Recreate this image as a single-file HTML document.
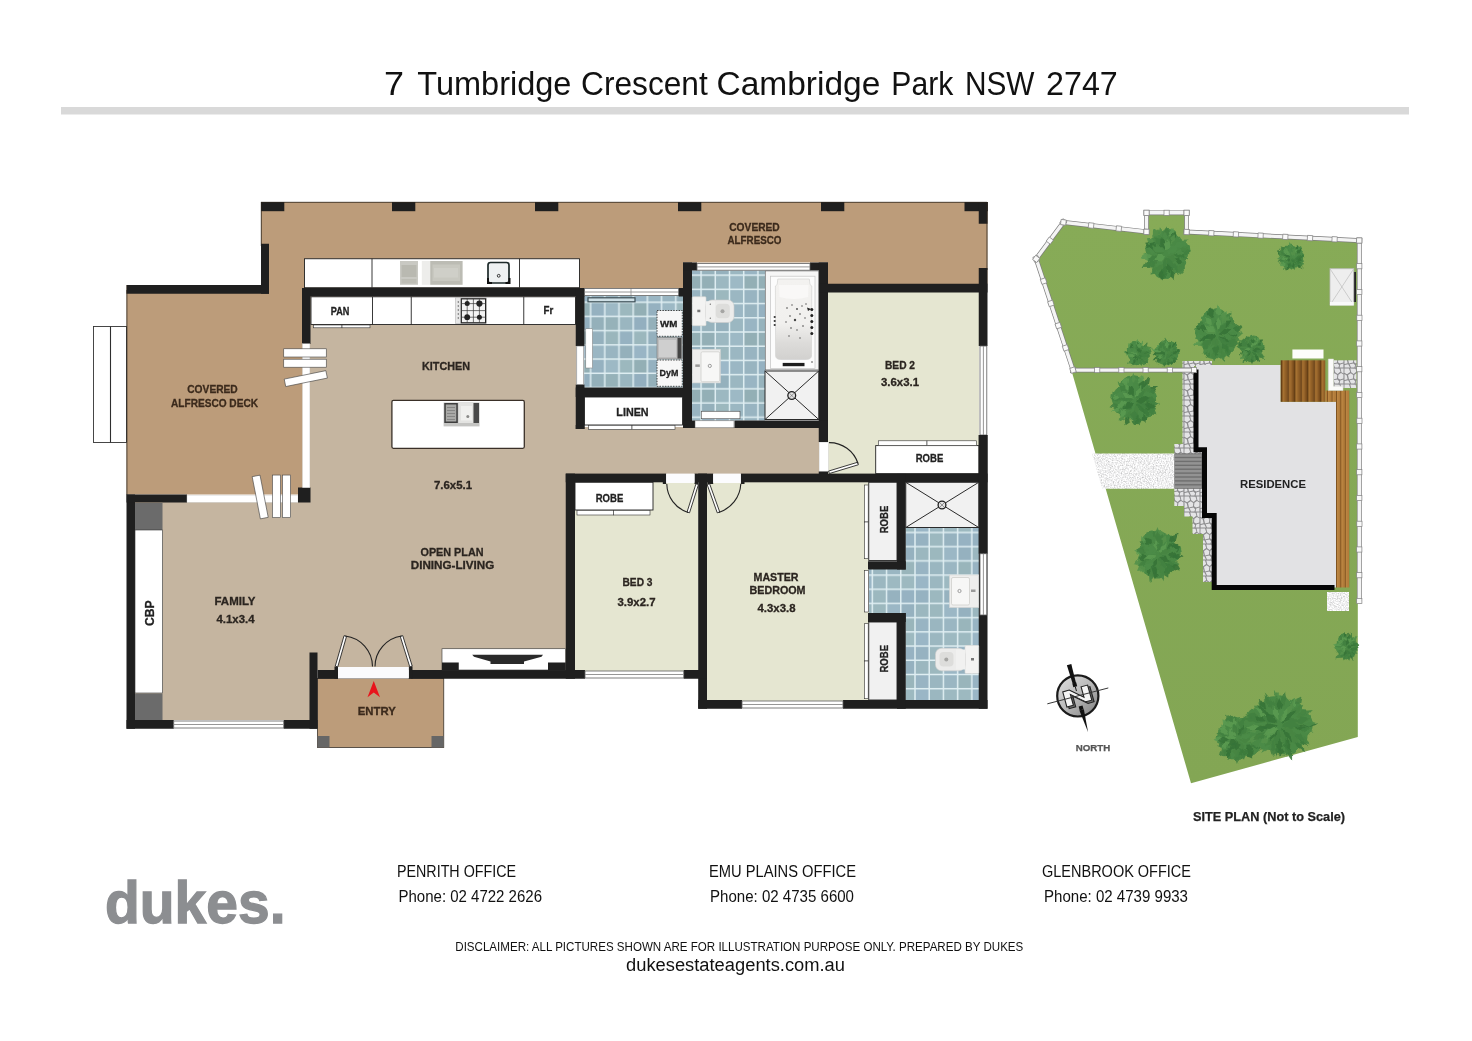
<!DOCTYPE html>
<html lang="en"><head><meta charset="utf-8"><title>7 Tumbridge Crescent Cambridge Park NSW 2747</title>
<style>html,body{margin:0;padding:0;background:#fff}svg{display:block;will-change:transform;opacity:0.999}</style></head><body>
<svg width="1472" height="1041" viewBox="0 0 1472 1041" font-family="'Liberation Sans', sans-serif">
<defs>
<pattern id="tileL" width="56.8" height="56.8" patternUnits="userSpaceOnUse" x="590.60" y="302.30">
<rect width="56.8" height="56.8" fill="#dfeef2"/>
<rect x="0.75" y="0.75" width="12.70" height="12.70" fill="#95b1c0"/>
<rect x="0.75" y="14.95" width="12.70" height="12.70" fill="#94b0ba"/>
<rect x="0.75" y="29.15" width="12.70" height="12.70" fill="#94b0bd"/>
<rect x="0.75" y="43.35" width="12.70" height="12.70" fill="#9ab6c3"/>
<rect x="14.95" y="0.75" width="12.70" height="12.70" fill="#9db9c5"/>
<rect x="14.95" y="14.95" width="12.70" height="12.70" fill="#96b2b9"/>
<rect x="14.95" y="29.15" width="12.70" height="12.70" fill="#9ab6bc"/>
<rect x="14.95" y="43.35" width="12.70" height="12.70" fill="#99b5c1"/>
<rect x="29.15" y="0.75" width="12.70" height="12.70" fill="#9cb8be"/>
<rect x="29.15" y="14.95" width="12.70" height="12.70" fill="#9ab6c0"/>
<rect x="29.15" y="29.15" width="12.70" height="12.70" fill="#96b2c1"/>
<rect x="29.15" y="43.35" width="12.70" height="12.70" fill="#94b0bb"/>
<rect x="43.35" y="0.75" width="12.70" height="12.70" fill="#93afb5"/>
<rect x="43.35" y="14.95" width="12.70" height="12.70" fill="#93afbf"/>
<rect x="43.35" y="29.15" width="12.70" height="12.70" fill="#9bb7bd"/>
<rect x="43.35" y="43.35" width="12.70" height="12.70" fill="#99b5c5"/>
</pattern>
<pattern id="tileB" width="56.8" height="56.8" patternUnits="userSpaceOnUse" x="701.10" y="275.20">
<rect width="56.8" height="56.8" fill="#dfeef2"/>
<rect x="0.75" y="0.75" width="12.70" height="12.70" fill="#93afb6"/>
<rect x="0.75" y="14.95" width="12.70" height="12.70" fill="#94b0bb"/>
<rect x="0.75" y="29.15" width="12.70" height="12.70" fill="#95b1c1"/>
<rect x="0.75" y="43.35" width="12.70" height="12.70" fill="#97b3bd"/>
<rect x="14.95" y="0.75" width="12.70" height="12.70" fill="#9cb8c1"/>
<rect x="14.95" y="14.95" width="12.70" height="12.70" fill="#9cb8be"/>
<rect x="14.95" y="29.15" width="12.70" height="12.70" fill="#9cb8c8"/>
<rect x="14.95" y="43.35" width="12.70" height="12.70" fill="#95b1bd"/>
<rect x="29.15" y="0.75" width="12.70" height="12.70" fill="#9db9c5"/>
<rect x="29.15" y="14.95" width="12.70" height="12.70" fill="#9bb7c2"/>
<rect x="29.15" y="29.15" width="12.70" height="12.70" fill="#9bb7c4"/>
<rect x="29.15" y="43.35" width="12.70" height="12.70" fill="#9bb7c1"/>
<rect x="43.35" y="0.75" width="12.70" height="12.70" fill="#93afb5"/>
<rect x="43.35" y="14.95" width="12.70" height="12.70" fill="#98b4c1"/>
<rect x="43.35" y="29.15" width="12.70" height="12.70" fill="#98b4c0"/>
<rect x="43.35" y="43.35" width="12.70" height="12.70" fill="#99b5c3"/>
</pattern>
<pattern id="tileE" width="56.8" height="56.8" patternUnits="userSpaceOnUse" x="915.00" y="532.50">
<rect width="56.8" height="56.8" fill="#dfeef2"/>
<rect x="0.75" y="0.75" width="12.70" height="12.70" fill="#96b2c1"/>
<rect x="0.75" y="14.95" width="12.70" height="12.70" fill="#9bb7bf"/>
<rect x="0.75" y="29.15" width="12.70" height="12.70" fill="#98b4c3"/>
<rect x="0.75" y="43.35" width="12.70" height="12.70" fill="#9ab6c6"/>
<rect x="14.95" y="0.75" width="12.70" height="12.70" fill="#9cb8bf"/>
<rect x="14.95" y="14.95" width="12.70" height="12.70" fill="#9cb8be"/>
<rect x="14.95" y="29.15" width="12.70" height="12.70" fill="#9ab6c0"/>
<rect x="14.95" y="43.35" width="12.70" height="12.70" fill="#9bb7c0"/>
<rect x="29.15" y="0.75" width="12.70" height="12.70" fill="#96b2bf"/>
<rect x="29.15" y="14.95" width="12.70" height="12.70" fill="#9bb7c5"/>
<rect x="29.15" y="29.15" width="12.70" height="12.70" fill="#9ab6c2"/>
<rect x="29.15" y="43.35" width="12.70" height="12.70" fill="#9db9c1"/>
<rect x="43.35" y="0.75" width="12.70" height="12.70" fill="#96b2c2"/>
<rect x="43.35" y="14.95" width="12.70" height="12.70" fill="#95b1bf"/>
<rect x="43.35" y="29.15" width="12.70" height="12.70" fill="#99b5bb"/>
<rect x="43.35" y="43.35" width="12.70" height="12.70" fill="#9db9c0"/>
</pattern>
<linearGradient id="livg" x1="0" y1="0" x2="1" y2="1"><stop offset="0" stop-color="#c9baa5"/><stop offset="1" stop-color="#c2b39e"/></linearGradient>
<radialGradient id="tree" cx="0.5" cy="0.5" r="0.5"><stop offset="0" stop-color="#4f8f45"/><stop offset="0.75" stop-color="#4a8a40"/><stop offset="1" stop-color="#5b9a48" stop-opacity="0.85"/></radialGradient>
<filter id="blur1"><feGaussianBlur stdDeviation="0.6"/></filter>
<filter id="blur2"><feGaussianBlur stdDeviation="1.2"/></filter>
</defs>
<rect x="0.00" y="0.00" width="1472.00" height="1041.00" fill="#fff" />
<text x="384.0" y="95" font-size="32.8" fill="#111" textLength="20.0" lengthAdjust="spacingAndGlyphs">7</text>
<text x="417.25" y="95" font-size="32.8" fill="#111" textLength="154.2" lengthAdjust="spacingAndGlyphs">Tumbridge</text>
<text x="581.0" y="95" font-size="32.8" fill="#111" textLength="126.8" lengthAdjust="spacingAndGlyphs">Crescent</text>
<text x="716.5" y="95" font-size="32.8" fill="#111" textLength="163.8" lengthAdjust="spacingAndGlyphs">Cambridge</text>
<text x="891.3" y="95" font-size="32.8" fill="#111" textLength="62.0" lengthAdjust="spacingAndGlyphs">Park</text>
<text x="964.9" y="95" font-size="32.8" fill="#111" textLength="69.6" lengthAdjust="spacingAndGlyphs">NSW</text>
<text x="1046.1" y="95" font-size="32.8" fill="#111" textLength="71.7" lengthAdjust="spacingAndGlyphs">2747</text>
<rect x="61.00" y="107.00" width="1348.00" height="7.50" fill="#d9d9d9" />
<path d="M261,202 H987.5 V284 H828 V262.5 H683 V288 H302.5 V494.5 H126.5 V285 H261 Z" fill="#bc9c7a"/>
<path d="M310,296 H576 V427 H819 V474 H566 V670 H317 V720 H135 V502 H310 Z" fill="#c5b5a0"/>
<rect x="317.50" y="678.50" width="126.25" height="69.00" fill="#bc9c7a" stroke="#3a332c" stroke-width="0.8"/>
<rect x="828.00" y="292.00" width="151.00" height="182.00" fill="#e5e6d1" />
<rect x="575.00" y="482.00" width="123.00" height="189.00" fill="#e5e6d1" />
<rect x="707.00" y="482.00" width="162.00" height="219.00" fill="#e5e6d1" />
<rect x="584.20" y="296.00" width="99.00" height="92.00" fill="url(#tileL)" />
<rect x="692.00" y="270.50" width="73.00" height="150.00" fill="url(#tileB)" />
<rect x="905.50" y="528.00" width="73.50" height="172.50" fill="url(#tileE)" />
<rect x="869.00" y="569.00" width="37.00" height="44.50" fill="url(#tileE)" />
<rect x="93.50" y="326.50" width="33.00" height="116.00" fill="#fff" stroke="#333" stroke-width="0.9"/>
<line x1="110.5" y1="326.5" x2="110.5" y2="442.5" stroke="#2e2e2e" stroke-width="1.1"/>
<rect x="261.00" y="202.00" width="23.30" height="9.20" fill="#1f1f1f" />
<rect x="392.00" y="202.00" width="23.30" height="9.20" fill="#1f1f1f" />
<rect x="535.00" y="202.00" width="23.30" height="9.20" fill="#1f1f1f" />
<rect x="678.00" y="202.00" width="23.30" height="9.20" fill="#1f1f1f" />
<rect x="821.00" y="202.00" width="23.30" height="9.20" fill="#1f1f1f" />
<rect x="964.50" y="202.00" width="23.30" height="9.20" fill="#1f1f1f" />
<rect x="978.75" y="202.00" width="8.75" height="21.75" fill="#1f1f1f" />
<line x1="261" y1="202.3" x2="987" y2="202.3" stroke="#2b241d" stroke-width="0.8"/>
<line x1="987" y1="202" x2="987" y2="270" stroke="#2b241d" stroke-width="0.8"/>
<line x1="261.3" y1="202" x2="261.3" y2="246" stroke="#2b241d" stroke-width="0.8"/>
<rect x="261.00" y="243.75" width="8.00" height="50.00" fill="#1f1f1f" />
<rect x="126.50" y="285.00" width="142.50" height="8.75" fill="#1f1f1f" />
<line x1="126.9" y1="290" x2="126.9" y2="495" stroke="#2b241d" stroke-width="0.8"/>
<rect x="304.50" y="258.75" width="275.00" height="28.95" fill="#fff" stroke="#222" stroke-width="0.9"/>
<line x1="372" y1="258.75" x2="372" y2="287.7" stroke="#222" stroke-width="0.9"/>
<line x1="519.5" y1="258.75" x2="519.5" y2="287.7" stroke="#222" stroke-width="0.9"/>
<rect x="302.00" y="288.00" width="282.50" height="8.50" fill="#1f1f1f" />
<rect x="302.00" y="288.00" width="8.50" height="56.00" fill="#1f1f1f" />
<rect x="311.00" y="296.80" width="264.50" height="27.70" fill="#fff" stroke="#222" stroke-width="0.9"/>
<line x1="372.5" y1="296.8" x2="372.5" y2="324.5" stroke="#222" stroke-width="0.9"/>
<line x1="411.25" y1="296.8" x2="411.25" y2="324.5" stroke="#222" stroke-width="0.9"/>
<line x1="523.75" y1="296.8" x2="523.75" y2="324.5" stroke="#222" stroke-width="0.9"/>
<rect x="313.50" y="325.00" width="28.50" height="2.80" fill="#fff" stroke="#333" stroke-width="0.6"/>
<rect x="342.00" y="325.00" width="28.00" height="2.80" fill="#fff" stroke="#333" stroke-width="0.6"/>
<rect x="575.75" y="288.00" width="8.75" height="58.00" fill="#1f1f1f" />
<rect x="575.75" y="384.50" width="8.75" height="44.50" fill="#1f1f1f" />
<rect x="576.80" y="346.00" width="7.00" height="38.50" fill="#fff" stroke="#555" stroke-width="0.5"/>
<rect x="584.50" y="288.60" width="94.30" height="7.00" fill="#fff" stroke="#5e5e5e" stroke-width="0.8"/>
<line x1="631" y1="288.6" x2="631" y2="295.6" stroke="#666" stroke-width="0.6"/>
<line x1="584.5" y1="292" x2="678.8" y2="292" stroke="#8a8a8a" stroke-width="0.9"/>
<rect x="678.75" y="288.00" width="4.75" height="8.50" fill="#1f1f1f" />
<rect x="575.75" y="387.50" width="116.25" height="9.50" fill="#1f1f1f" />
<rect x="584.50" y="397.00" width="98.00" height="28.00" fill="#fff" stroke="#222" stroke-width="0.9"/>
<rect x="575.75" y="425.00" width="8.75" height="4.00" fill="#1f1f1f" />
<rect x="588.50" y="425.30" width="43.50" height="4.20" fill="#fff" stroke="#333" stroke-width="0.6"/>
<rect x="632.00" y="425.30" width="43.00" height="4.20" fill="#fff" stroke="#333" stroke-width="0.6"/>
<rect x="683.00" y="262.50" width="9.00" height="165.30" fill="#1f1f1f" />
<rect x="683.00" y="262.50" width="14.00" height="8.00" fill="#1f1f1f" />
<rect x="810.00" y="262.50" width="18.00" height="8.00" fill="#1f1f1f" />
<rect x="697.00" y="263.60" width="113.00" height="6.60" fill="#fff" stroke="#5e5e5e" stroke-width="0.8"/>
<line x1="697" y1="266.9" x2="810" y2="266.9" stroke="#8a8a8a" stroke-width="0.9"/>
<rect x="818.75" y="262.50" width="9.25" height="179.50" fill="#1f1f1f" />
<rect x="734.50" y="420.50" width="93.50" height="7.50" fill="#1f1f1f" />
<rect x="683.00" y="420.50" width="12.00" height="7.50" fill="#1f1f1f" />
<rect x="695.00" y="420.80" width="39.00" height="7.00" fill="#fff" stroke="#555" stroke-width="0.5"/>
<rect x="701.25" y="411.25" width="38.75" height="7.50" fill="#fff" stroke="#444" stroke-width="0.6"/>
<rect x="818.75" y="283.75" width="168.75" height="8.75" fill="#1f1f1f" />
<rect x="978.75" y="268.00" width="8.75" height="78.00" fill="#1f1f1f" />
<rect x="978.75" y="435.00" width="8.75" height="273.75" fill="#1f1f1f" />
<rect x="980.00" y="346.00" width="6.80" height="89.00" fill="#fff" stroke="#5e5e5e" stroke-width="0.8"/>
<line x1="983.4" y1="346" x2="983.4" y2="435" stroke="#8a8a8a" stroke-width="0.9"/>
<rect x="819.30" y="442.50" width="9.00" height="29.30" fill="#fff" stroke="#ccc" stroke-width="0.4"/>
<rect x="818.75" y="471.50" width="9.25" height="2.50" fill="#1f1f1f" />
<rect x="740.80" y="473.60" width="246.70" height="8.70" fill="#1f1f1f" />
<rect x="565.75" y="473.60" width="100.45" height="8.70" fill="#1f1f1f" />
<rect x="662.80" y="482.00" width="3.40" height="2.00" fill="#1f1f1f" />
<rect x="694.50" y="482.00" width="3.50" height="2.00" fill="#1f1f1f" />
<rect x="707.30" y="482.00" width="5.90" height="2.00" fill="#1f1f1f" />
<rect x="740.80" y="482.00" width="3.70" height="2.00" fill="#1f1f1f" />
<rect x="565.75" y="473.60" width="9.25" height="205.15" fill="#1f1f1f" />
<rect x="694.50" y="473.60" width="18.70" height="8.70" fill="#1f1f1f" />
<rect x="698.20" y="473.60" width="8.80" height="235.15" fill="#1f1f1f" />
<rect x="666.20" y="473.60" width="28.30" height="9.40" fill="#fcfcfe" />
<rect x="713.20" y="473.60" width="27.60" height="9.40" fill="#fcfcfe" />
<rect x="411.25" y="670.00" width="173.75" height="8.75" fill="#1f1f1f" />
<rect x="683.75" y="670.00" width="23.25" height="8.75" fill="#1f1f1f" />
<rect x="585.00" y="671.00" width="98.75" height="7.00" fill="#fff" stroke="#5e5e5e" stroke-width="0.8"/>
<line x1="585" y1="674.5" x2="683.75" y2="674.5" stroke="#8a8a8a" stroke-width="0.9"/>
<rect x="698.20" y="700.00" width="43.80" height="8.75" fill="#1f1f1f" />
<rect x="843.00" y="700.00" width="144.50" height="8.75" fill="#1f1f1f" />
<rect x="742.00" y="701.00" width="101.00" height="7.00" fill="#fff" stroke="#5e5e5e" stroke-width="0.8"/>
<line x1="742" y1="704.5" x2="843" y2="704.5" stroke="#8a8a8a" stroke-width="0.9"/>
<rect x="897.00" y="473.60" width="8.75" height="95.90" fill="#1f1f1f" />
<rect x="868.00" y="561.25" width="37.75" height="8.25" fill="#1f1f1f" />
<rect x="868.00" y="613.00" width="37.75" height="9.00" fill="#1f1f1f" />
<rect x="897.00" y="613.00" width="8.75" height="95.75" fill="#1f1f1f" />
<rect x="978.75" y="435.00" width="8.75" height="118.75" fill="#1f1f1f" />
<rect x="980.00" y="553.75" width="6.80" height="61.25" fill="#fff" stroke="#5e5e5e" stroke-width="0.8"/>
<line x1="983.4" y1="553.75" x2="983.4" y2="615" stroke="#8a8a8a" stroke-width="0.9"/>
<rect x="864.60" y="570.50" width="4.00" height="41.50" fill="#fff" stroke="#333" stroke-width="0.6"/>
<rect x="126.50" y="494.50" width="8.50" height="234.25" fill="#1f1f1f" />
<rect x="126.50" y="494.50" width="60.50" height="8.00" fill="#1f1f1f" />
<rect x="187.00" y="495.30" width="111.00" height="7.00" fill="#fff" stroke="#ccc" stroke-width="0.4"/>
<rect x="298.00" y="487.50" width="12.50" height="15.00" fill="#1f1f1f" />
<rect x="302.80" y="343.75" width="7.00" height="143.75" fill="#fff" stroke="#ccc" stroke-width="0.4"/>
<rect x="126.50" y="720.00" width="47.25" height="8.75" fill="#1f1f1f" />
<rect x="283.75" y="720.00" width="33.75" height="8.75" fill="#1f1f1f" />
<rect x="173.75" y="721.00" width="110.00" height="7.00" fill="#fff" stroke="#5e5e5e" stroke-width="0.8"/>
<line x1="173.75" y1="724.5" x2="283.75" y2="724.5" stroke="#8a8a8a" stroke-width="0.9"/>
<rect x="135.00" y="503.00" width="27.50" height="27.00" fill="#6b6b6b" />
<rect x="135.00" y="530.00" width="27.50" height="163.00" fill="#fff" stroke="#333" stroke-width="0.6"/>
<rect x="135.00" y="693.50" width="27.50" height="26.50" fill="#6b6b6b" />
<rect x="309.50" y="652.50" width="8.00" height="76.25" fill="#1f1f1f" />
<rect x="317.50" y="670.00" width="20.50" height="8.75" fill="#1f1f1f" />
<rect x="334.50" y="666.50" width="3.50" height="12.25" fill="#1f1f1f" />
<rect x="408.75" y="666.50" width="3.75" height="12.25" fill="#1f1f1f" />
<rect x="338.00" y="667.00" width="70.75" height="11.50" fill="#fbfbfd" />
<rect x="317.50" y="736.00" width="12.00" height="11.50" fill="#666" />
<rect x="431.50" y="736.00" width="12.25" height="11.50" fill="#666" />
<rect x="442.00" y="648.75" width="123.50" height="21.25" fill="#fff" stroke="#333" stroke-width="0.6"/>
<rect x="442.00" y="662.50" width="16.75" height="7.50" fill="#1f1f1f" />
<rect x="548.00" y="662.50" width="17.75" height="7.50" fill="#1f1f1f" />
<path d="M472.2,654.8 H543 L541.5,656.8 L524,661.6 V664 H490.5 V661.6 L474,656.8 Z" fill="#2a2a2a"/>
<rect x="391.9" y="400.4" width="132.4" height="47.9" rx="1.5" fill="#fff" stroke="#3a3028" stroke-width="1.3"/>
<rect x="283.75" y="348.80" width="42.5" height="8.2" fill="#fff" stroke="#444" stroke-width="0.6" transform="rotate(0 305 352.9)"/>
<rect x="283.75" y="359.20" width="42.5" height="8" fill="#fff" stroke="#444" stroke-width="0.6" transform="rotate(0 305 363.2)"/>
<rect x="284.55" y="374.80" width="42.5" height="7.6" fill="#fff" stroke="#444" stroke-width="0.6" transform="rotate(-11.5 305.8 378.6)"/>
<rect x="256.20" y="475.50" width="8" height="43" fill="#fff" stroke="#444" stroke-width="0.6" transform="rotate(-11 260.2 497)"/>
<rect x="272.50" y="475.05" width="8" height="42.5" fill="#fff" stroke="#444" stroke-width="0.6" transform="rotate(0 276.5 496.3)"/>
<rect x="282.50" y="475.05" width="8" height="42.5" fill="#fff" stroke="#444" stroke-width="0.6" transform="rotate(0 286.5 496.3)"/>
<rect x="336.50" y="665.20" width="31.74" height="2.6" fill="#fff" stroke="#222" stroke-width="0.8" transform="rotate(-73.91 336.50 666.50)"/>
<path d="M345.3,636 A31,31 0 0 1 372.5,666.5" fill="none" stroke="#222" stroke-width="1.1"/>
<rect x="411.00" y="665.20" width="31.95" height="2.6" fill="#fff" stroke="#222" stroke-width="0.8" transform="rotate(-107.30 411.00 666.50)"/>
<path d="M401.5,636 A31,31 0 0 0 375,666.5" fill="none" stroke="#222" stroke-width="1.1"/>
<rect x="697.20" y="482.90" width="29.57" height="2.6" fill="#fff" stroke="#222" stroke-width="0.8" transform="rotate(107.52 697.20 484.20)"/>
<path d="M666.8,484 A30.4,30.4 0 0 0 688,512.4" fill="none" stroke="#222" stroke-width="1.1"/>
<rect x="708.40" y="482.90" width="29.95" height="2.6" fill="#fff" stroke="#222" stroke-width="0.8" transform="rotate(70.29 708.40 484.20)"/>
<path d="M740.8,484 A31.5,31.5 0 0 1 718.8,512.4" fill="none" stroke="#222" stroke-width="1.1"/>
<rect x="829.00" y="471.00" width="30.31" height="2.6" fill="#fff" stroke="#222" stroke-width="0.8" transform="rotate(-16.88 829.00 472.30)"/>
<path d="M829,442.6 A30,30 0 0 1 858,463.5" fill="none" stroke="#222" stroke-width="1.1"/>
<rect x="875.70" y="445.60" width="103.10" height="28.00" fill="#fff" stroke="#222" stroke-width="0.9"/>
<rect x="878.40" y="440.80" width="48.60" height="4.80" fill="#fff" stroke="#333" stroke-width="0.6"/>
<rect x="927.00" y="440.80" width="49.50" height="4.80" fill="#fff" stroke="#333" stroke-width="0.6"/>
<rect x="575.00" y="482.30" width="78.00" height="27.70" fill="#fff" stroke="#222" stroke-width="0.9"/>
<rect x="577.00" y="510.50" width="36.50" height="4.50" fill="#fff" stroke="#333" stroke-width="0.6"/>
<rect x="613.50" y="510.50" width="36.50" height="4.50" fill="#fff" stroke="#333" stroke-width="0.6"/>
<rect x="868.75" y="482.30" width="28.25" height="78.20" fill="#f1f1f1" stroke="#222" stroke-width="0.9"/>
<rect x="868.75" y="622.00" width="28.25" height="78.00" fill="#f1f1f1" stroke="#222" stroke-width="0.9"/>
<rect x="864.60" y="485.00" width="3.60" height="37.00" fill="#fff" stroke="#333" stroke-width="0.6"/>
<rect x="864.60" y="522.00" width="3.60" height="36.70" fill="#fff" stroke="#333" stroke-width="0.6"/>
<rect x="864.60" y="623.70" width="3.60" height="37.30" fill="#fff" stroke="#333" stroke-width="0.6"/>
<rect x="864.60" y="661.00" width="3.60" height="37.70" fill="#fff" stroke="#333" stroke-width="0.6"/>
<rect x="765.00" y="371.00" width="53.75" height="48.50" fill="#f1f1f1" stroke="#2a2a2a" stroke-width="1"/>
<path d="M765,371 L818.75,419.5 M818.75,371 L765,419.5" stroke="#2a2a2a" stroke-width="1"/>
<circle cx="791.75" cy="395.5" r="3.9" fill="#e2e2e2" stroke="#1e1e1e" stroke-width="1.3"/>
<path d="M789.25,393.0 L794.25,398.0 M794.25,393.0 L789.25,398.0" stroke="#444" stroke-width="0.5"/>
<rect x="905.75" y="482.30" width="73.00" height="45.20" fill="#f1f1f1" stroke="#2a2a2a" stroke-width="1"/>
<path d="M905.75,482.3 L978.75,527.5 M978.75,482.3 L905.75,527.5" stroke="#2a2a2a" stroke-width="1"/>
<circle cx="942" cy="505" r="3.9" fill="#e2e2e2" stroke="#1e1e1e" stroke-width="1.3"/>
<path d="M939.5,502.5 L944.5,507.5 M944.5,502.5 L939.5,507.5" stroke="#444" stroke-width="0.5"/>
<linearGradient id="tubg" x1="0" y1="0" x2="0" y2="1"><stop offset="0" stop-color="#f3f2f0"/><stop offset="0.55" stop-color="#f1f0ee"/><stop offset="0.8" stop-color="#dcdbd9"/><stop offset="1" stop-color="#d2d1cf"/></linearGradient>
<rect x="765.30" y="270.90" width="53.40" height="99.00" fill="#f6f6f6" stroke="#666" stroke-width="0.7"/>
<rect x="770.60" y="276.20" width="44.40" height="92.40" fill="#fcfcfc" stroke="#c4c4c4" stroke-width="0.7"/>
<g filter="url(#blur1)">
<path d="M777.8,279 H809.3 L810,284.5 L811.8,286 L811.5,356 Q811,359.5 806,359.5 H781 Q776,359.5 775.6,356 L775.4,286 L777.2,284.5 Z" fill="url(#tubg)" stroke="#d4d4d2" stroke-width="0.7"/>
<path d="M779,285 H808.5 L808,297 Q793.5,301 779.5,297 Z" fill="#f9f8f7"/>
</g>
<rect x="782.70" y="362.90" width="21.80" height="3.30" fill="#1c1c1c" />
<circle cx="787" cy="308" r="0.8" fill="#444"/>
<circle cx="792" cy="305" r="0.7" fill="#444"/>
<circle cx="797" cy="309" r="0.9" fill="#444"/>
<circle cx="802" cy="306" r="0.7" fill="#444"/>
<circle cx="806" cy="304" r="0.7" fill="#444"/>
<circle cx="790" cy="316" r="0.8" fill="#444"/>
<circle cx="795" cy="320" r="1.2" fill="#444"/>
<circle cx="800" cy="314" r="0.8" fill="#444"/>
<circle cx="786" cy="322" r="0.7" fill="#444"/>
<circle cx="791" cy="328" r="0.8" fill="#444"/>
<circle cx="797" cy="330" r="0.7" fill="#444"/>
<circle cx="803" cy="326" r="0.8" fill="#444"/>
<circle cx="789" cy="336" r="0.7" fill="#444"/>
<circle cx="800" cy="338" r="0.7" fill="#444"/>
<circle cx="805" cy="318" r="0.7" fill="#444"/>
<circle cx="811.8" cy="309.5" r="1.5" fill="#222"/>
<circle cx="811.8" cy="315.5" r="1.5" fill="#222"/>
<circle cx="811.8" cy="321.5" r="1.5" fill="#222"/>
<circle cx="811.8" cy="327.5" r="1.5" fill="#222"/>
<circle cx="811.8" cy="333.5" r="1.5" fill="#222"/>
<path d="M807,307.5 l4,1.5 l-3,2 z" fill="#222"/>
<circle cx="774.7" cy="317" r="1.1" fill="#333"/>
<circle cx="774.7" cy="321" r="1.1" fill="#333"/>
<circle cx="774.7" cy="325" r="1.1" fill="#333"/>
<circle cx="812" cy="362" r="0.8" fill="#444"/>
<g filter="url(#blur1)">
<rect x="692.3" y="296.7" width="13.7" height="29" rx="1" fill="#f3f3f2" stroke="#d6d6d4" stroke-width="0.6"/>
<rect x="706.0" y="300.0" width="28" height="22.5" rx="6" fill="#ececeb" stroke="#cfcfcd" stroke-width="0.6"/>
<rect x="706.0" y="301.2" width="9" height="20" fill="#f1f1f0"/>
<rect x="715.8" y="303.7" width="14" height="14.5" rx="4" fill="#dddddb"/>
<circle cx="722.5" cy="311.2" r="2" fill="#a5a5a3"/>
<rect x="697.3" y="309.7" width="3" height="2.5" fill="#777"/>
<circle cx="710.3" cy="304.2" r="0.6" fill="#555"/><circle cx="710.3" cy="318.2" r="0.6" fill="#555"/>
</g>
<g filter="url(#blur1)">
<rect x="692.30" y="349.40" width="28.00" height="33.50" fill="#eeeeed" stroke="#d6d6d4" stroke-width="0.6"/>
<rect x="701.0" y="351.79999999999995" width="18.7" height="29.9" rx="1.5" fill="#f7f7f6" stroke="#cfcfcd" stroke-width="0.8"/>
<circle cx="709.8" cy="365.9" r="1.6" fill="none" stroke="#888" stroke-width="0.8"/>
<rect x="695.3" y="364.4" width="4.5" height="2.5" fill="#999"/>
</g>
<g filter="url(#blur1)">
<rect x="949.50" y="575.00" width="29.20" height="32.50" fill="#eeeeed" stroke="#d6d6d4" stroke-width="0.6"/>
<rect x="951.5" y="577.5" width="18" height="27.5" rx="1.5" fill="#f7f7f6" stroke="#cfcfcd" stroke-width="0.8"/>
<circle cx="959.5" cy="591" r="1.6" fill="none" stroke="#888" stroke-width="0.8"/><rect x="971" y="589.5" width="4.5" height="2.5" fill="#999"/>
</g>
<g filter="url(#blur1)">
<rect x="965" y="645.5" width="13.7" height="28" rx="1" fill="#f3f3f2" stroke="#d6d6d4" stroke-width="0.6"/>
<rect x="935.5" y="648.3" width="29.5" height="22.5" rx="6" fill="#ececeb" stroke="#cfcfcd" stroke-width="0.6"/>
<rect x="956" y="649.5" width="9" height="20" fill="#f1f1f0"/>
<rect x="939.5" y="652" width="14" height="14.5" rx="4" fill="#dddddb"/><circle cx="946.3" cy="659.5" r="2" fill="#a5a5a3"/><rect x="971" y="658" width="3" height="2.5" fill="#777"/>
</g>
<rect x="657.00" y="310.50" width="25.30" height="25.80" fill="#f7f7f7" stroke="#444" stroke-width="1" stroke-dasharray="1.5 1.2"/>
<rect x="657.00" y="360.00" width="25.30" height="26.30" fill="#f7f7f7" stroke="#444" stroke-width="1" stroke-dasharray="1.5 1.2"/>
<rect x="657.00" y="337.50" width="25.30" height="21.50" fill="#bdbdbd" stroke="#777" stroke-width="0.6"/>
<rect x="659.00" y="340.00" width="17.00" height="17.00" fill="#cfcfcf" />
<rect x="677.50" y="338.00" width="4.00" height="20.50" fill="#444" />
<rect x="585.80" y="328.75" width="6.70" height="39.25" fill="#fff" stroke="#777" stroke-width="0.5"/>
<rect x="588.00" y="297.80" width="47.00" height="4.00" fill="#cfe0e6" stroke="#3d4f56" stroke-width="1.2"/>
<g filter="url(#blur1)">
<rect x="400.00" y="261.00" width="18.00" height="23.80" fill="#c9c9c3" />
<rect x="401.50" y="265.00" width="15.00" height="12.00" fill="#b9b9b1" />
<rect x="401.50" y="279.00" width="15.00" height="4.50" fill="#bdbdb5" />
<rect x="421.80" y="261.00" width="8.20" height="23.80" fill="#ededeb" />
<rect x="430.20" y="261.00" width="32.40" height="23.80" fill="#bcbcb4" />
<rect x="432.50" y="264.50" width="27.50" height="16.50" fill="#c8c8c0" />
<rect x="434.00" y="268.00" width="24.00" height="9.50" fill="#cfcfc8" />
</g>
<rect x="488" y="262.5" width="21" height="20.5" rx="2.5" fill="#eef1f2" stroke="#1d2a2a" stroke-width="1.7"/>
<circle cx="498.7" cy="275.8" r="1.4" fill="none" stroke="#222" stroke-width="0.9"/>
<path d="M488,278 v5 h4 M509.5,278 v5 h-4" stroke="#111" stroke-width="2" fill="none"/>
<rect x="455.50" y="297.80" width="30.70" height="25.80" fill="#e6e6e6" stroke="#aaa" stroke-width="0.5"/>
<rect x="461.30" y="298.80" width="24.30" height="24.00" fill="#f3f3f3" stroke="#222" stroke-width="1.2"/>
<path d="M467.2,298.8 V322.8 M473.4,298.8 V322.8 M479.4,298.8 V322.8 M461.3,303.6 H485.6 M461.3,310.6 H485.6 M461.3,317.2 H485.6" stroke="#3a3a3a" stroke-width="0.7" fill="none"/>
<circle cx="467.2" cy="303.6" r="2.5" fill="#222"/>
<circle cx="479.4" cy="303.6" r="3.1" fill="#222"/>
<circle cx="467.2" cy="317.2" r="2.9" fill="#222"/>
<circle cx="479.4" cy="317.2" r="2.5" fill="#222"/>
<circle cx="458.3" cy="302" r="0.7" fill="#555"/>
<circle cx="458.3" cy="306" r="0.7" fill="#555"/>
<circle cx="458.3" cy="310" r="0.7" fill="#555"/>
<circle cx="458.3" cy="314" r="0.7" fill="#555"/>
<circle cx="458.3" cy="318" r="0.7" fill="#555"/>
<g filter="url(#blur1)">
<rect x="443.60" y="402.50" width="35.90" height="23.90" fill="#c4c4c2" />
<rect x="444.30" y="403.00" width="13.50" height="20.00" fill="#3c3c3c" />
<rect x="445.80" y="404.50" width="10.50" height="17.00" fill="#a9a9a7" />
<rect x="458.50" y="403.00" width="15.00" height="20.00" fill="#e3e3e1" />
<rect x="461.00" y="406.00" width="11.00" height="14.50" fill="#f0f0ee" />
<rect x="473.50" y="403.00" width="5.50" height="20.00" fill="#4a4a48" />
<circle cx="467.8" cy="416.5" r="1.5" fill="#8a8a88"/>
<path d="M447,407.5 h8 M447,410.5 h8 M447,413.5 h8 M447,416.5 h8 M447,419.5 h8" stroke="#777" stroke-width="0.7"/>
</g>
<path d="M373.75,681 L380,697.2 L373.75,692.6 L367.5,697.2 Z" fill="#e8141c"/>
<text x="754.5" y="230.7" font-size="11.5" font-weight="bold" fill="#3b2a1c" stroke="#3b2a1c" stroke-width="0.3" text-anchor="middle" textLength="50.5" lengthAdjust="spacingAndGlyphs" >COVERED</text>
<text x="754.5" y="243.7" font-size="11.5" font-weight="bold" fill="#3b2a1c" stroke="#3b2a1c" stroke-width="0.3" text-anchor="middle" textLength="54" lengthAdjust="spacingAndGlyphs" >ALFRESCO</text>
<text x="212.5" y="393.2" font-size="11.5" font-weight="bold" fill="#3b2a1c" stroke="#3b2a1c" stroke-width="0.3" text-anchor="middle" textLength="50.5" lengthAdjust="spacingAndGlyphs" >COVERED</text>
<text x="214.5" y="406.7" font-size="11.5" font-weight="bold" fill="#3b2a1c" stroke="#3b2a1c" stroke-width="0.3" text-anchor="middle" textLength="87" lengthAdjust="spacingAndGlyphs" >ALFRESCO DECK</text>
<text x="340" y="314.7" font-size="10" font-weight="bold" fill="#222" stroke="#222" stroke-width="0.3" text-anchor="middle" textLength="18.5" lengthAdjust="spacingAndGlyphs" >PAN</text>
<text x="548.4" y="313.9" font-size="10" font-weight="bold" fill="#222" stroke="#222" stroke-width="0.3" text-anchor="middle" textLength="9.7" lengthAdjust="spacingAndGlyphs" >Fr</text>
<text x="446" y="369.7" font-size="11.5" font-weight="bold" fill="#2b2520" stroke="#2b2520" stroke-width="0.3" text-anchor="middle" textLength="48" lengthAdjust="spacingAndGlyphs" >KITCHEN</text>
<text x="453" y="488.7" font-size="11.5" font-weight="bold" fill="#2b2520" stroke="#2b2520" stroke-width="0.3" text-anchor="middle" textLength="38" lengthAdjust="spacingAndGlyphs" >7.6x5.1</text>
<text x="452" y="555.7" font-size="11.5" font-weight="bold" fill="#2b2520" stroke="#2b2520" stroke-width="0.3" text-anchor="middle" textLength="63" lengthAdjust="spacingAndGlyphs" >OPEN PLAN</text>
<text x="452.5" y="569.2" font-size="11.5" font-weight="bold" fill="#2b2520" stroke="#2b2520" stroke-width="0.3" text-anchor="middle" textLength="83.5" lengthAdjust="spacingAndGlyphs" >DINING-LIVING</text>
<text x="235" y="604.7" font-size="11.5" font-weight="bold" fill="#2b2520" stroke="#2b2520" stroke-width="0.3" text-anchor="middle" textLength="41" lengthAdjust="spacingAndGlyphs" >FAMILY</text>
<text x="235.5" y="622.7" font-size="11.5" font-weight="bold" fill="#2b2520" stroke="#2b2520" stroke-width="0.3" text-anchor="middle" textLength="38" lengthAdjust="spacingAndGlyphs" >4.1x3.4</text>
<text x="376.75" y="714.7" font-size="11.5" font-weight="bold" fill="#3b2a1c" stroke="#3b2a1c" stroke-width="0.3" text-anchor="middle" textLength="38" lengthAdjust="spacingAndGlyphs" >ENTRY</text>
<text x="149.5" y="613.2" font-size="13.5" font-weight="bold" fill="#222" stroke="#222" stroke-width="0.3" text-anchor="middle" textLength="25.5" lengthAdjust="spacingAndGlyphs" transform="rotate(-90 149.5 613.2)" dominant-baseline="central">CBP</text>
<text x="632.5" y="416.4" font-size="11.1" font-weight="bold" fill="#222" stroke="#222" stroke-width="0.3" text-anchor="middle" textLength="32.3" lengthAdjust="spacingAndGlyphs" >LINEN</text>
<text x="668.6" y="327.2" font-size="9.6" font-weight="bold" fill="#222" stroke="#222" stroke-width="0.3" text-anchor="middle" textLength="17.3" lengthAdjust="spacingAndGlyphs" >WM</text>
<text x="669" y="376.09999999999997" font-size="9.6" font-weight="bold" fill="#222" stroke="#222" stroke-width="0.3" text-anchor="middle" textLength="18.8" lengthAdjust="spacingAndGlyphs" >DyM</text>
<text x="900" y="369.2" font-size="11.5" font-weight="bold" fill="#2b2520" stroke="#2b2520" stroke-width="0.3" text-anchor="middle" textLength="30" lengthAdjust="spacingAndGlyphs" >BED 2</text>
<text x="900" y="385.7" font-size="11.5" font-weight="bold" fill="#2b2520" stroke="#2b2520" stroke-width="0.3" text-anchor="middle" textLength="38" lengthAdjust="spacingAndGlyphs" >3.6x3.1</text>
<text x="929.5" y="462.2" font-size="11" font-weight="bold" fill="#222" stroke="#222" stroke-width="0.3" text-anchor="middle" textLength="27.5" lengthAdjust="spacingAndGlyphs" >ROBE</text>
<text x="609.5" y="502.2" font-size="11" font-weight="bold" fill="#222" stroke="#222" stroke-width="0.3" text-anchor="middle" textLength="27.5" lengthAdjust="spacingAndGlyphs" >ROBE</text>
<text x="637.5" y="586.2" font-size="11.5" font-weight="bold" fill="#2b2520" stroke="#2b2520" stroke-width="0.3" text-anchor="middle" textLength="30" lengthAdjust="spacingAndGlyphs" >BED 3</text>
<text x="636.5" y="605.7" font-size="11.5" font-weight="bold" fill="#2b2520" stroke="#2b2520" stroke-width="0.3" text-anchor="middle" textLength="38" lengthAdjust="spacingAndGlyphs" >3.9x2.7</text>
<text x="776" y="581.2" font-size="11.5" font-weight="bold" fill="#2b2520" stroke="#2b2520" stroke-width="0.3" text-anchor="middle" textLength="45" lengthAdjust="spacingAndGlyphs" >MASTER</text>
<text x="777.5" y="594.2" font-size="11.5" font-weight="bold" fill="#2b2520" stroke="#2b2520" stroke-width="0.3" text-anchor="middle" textLength="56" lengthAdjust="spacingAndGlyphs" >BEDROOM</text>
<text x="776.5" y="612.2" font-size="11.5" font-weight="bold" fill="#2b2520" stroke="#2b2520" stroke-width="0.3" text-anchor="middle" textLength="38" lengthAdjust="spacingAndGlyphs" >4.3x3.8</text>
<text x="883.5" y="519.5" font-size="11" font-weight="bold" fill="#222" stroke="#222" stroke-width="0.3" text-anchor="middle" textLength="27.5" lengthAdjust="spacingAndGlyphs" transform="rotate(-90 883.5 519.5)" dominant-baseline="central">ROBE</text>
<text x="883.5" y="658.75" font-size="11" font-weight="bold" fill="#222" stroke="#222" stroke-width="0.3" text-anchor="middle" textLength="27.5" lengthAdjust="spacingAndGlyphs" transform="rotate(-90 883.5 658.75)" dominant-baseline="central">ROBE</text>
<g id="site">
<defs><linearGradient id="grassg" x1="0" y1="0" x2="0" y2="1"><stop offset="0" stop-color="#87ab57"/><stop offset="1" stop-color="#83a654"/></linearGradient>

<pattern id="gravel" width="6" height="6" patternUnits="userSpaceOnUse"><rect width="6" height="6" fill="#dcdcdc"/><circle cx="1.5" cy="1.5" r="0.8" fill="#c2c2c2"/><circle cx="4.5" cy="3.5" r="0.9" fill="#f3f3f3"/><circle cx="2" cy="4.8" r="0.7" fill="#cacaca"/></pattern>
<pattern id="wood" width="13" height="10" patternUnits="userSpaceOnUse" x="1280.7" y="0"><rect width="13" height="10" fill="#9a672c"/><rect x="0" width="1.7" height="10" fill="#5b3711"/><rect x="1.7" width="1.6" height="10" fill="#a87433"/><rect x="6.5" width="1.7" height="10" fill="#65401a"/><rect x="8.2" width="2" height="10" fill="#a16d2f"/><rect x="4.6" width="1.9" height="10" fill="#8a5a24"/><rect x="11" width="2" height="10" fill="#875722"/></pattern>
<pattern id="wood2" width="4.4" height="10" patternUnits="userSpaceOnUse" x="1336" y="0"><rect width="4.4" height="10" fill="#b27c3a"/><rect x="0" width="1" height="10" fill="#7b4f1d"/><rect x="1" width="1.2" height="10" fill="#c08a45"/></pattern>
<pattern id="stone" width="16" height="16" patternUnits="userSpaceOnUse"><rect width="16" height="16" fill="#8b8b8d"/><path d="M0.5,0.6 L5,0.4 L6.2,4 L3,6.3 L0.4,4.8Z M6.3,0.5 L11.5,0.7 L12.5,3.6 L9.6,6 L7.2,4.3Z M12.6,0.5 L15.6,0.6 L15.5,5.4 L13.4,4.2Z M0.5,6 L2.8,7.4 L3.6,11.2 L0.5,12Z M4,7 L6.7,5.2 L9.3,7 L9,10.6 L5,11.4Z M10.4,6.8 L13,5 L15.5,6.6 L15.4,10.4 L12,11.6 L10,10.2Z M0.6,13 L4.2,12.2 L6,15.5 L0.6,15.5Z M5.6,12.2 L9.4,11.6 L11.2,13.2 L10.4,15.5 L7,15.5Z M12.2,12.6 L15.4,11.5 L15.4,15.5 L11.6,15.5Z" fill="#e4e4e6"/></pattern>
<filter id="gr" x="0" y="0" width="100%" height="100%"><feTurbulence type="fractalNoise" baseFrequency="0.75" numOctaves="2" seed="3" result="n"/><feColorMatrix in="n" type="matrix" values="0 0 0 0 0.86  0 0 0 0 0.86  0 0 0 0 0.865  0 0 0 0 1" result="base"/><feColorMatrix in="n" type="matrix" values="0.9 0 0 0 0.42  0.9 0 0 0 0.42  0.9 0 0 0 0.425  0 0 0 0 1" result="sp"/><feComposite in="sp" in2="SourceGraphic" operator="in"/></filter>
<filter id="tb" x="-35%" y="-35%" width="170%" height="170%"><feTurbulence type="fractalNoise" baseFrequency="0.12" numOctaves="2" seed="5" result="n"/><feDisplacementMap in="SourceGraphic" in2="n" scale="5" xChannelSelector="R" yChannelSelector="G" result="d"/><feGaussianBlur in="d" stdDeviation="0.6"/></filter>
</defs>
<path d="M1063.4,222.3 L1146.5,231.8 V212.8 H1186.6 V232 L1357.8,240.5 V737 L1191,783.25 L1071.3,370 L1036.2,258.9 Z" fill="url(#grassg)"/>
<path d="M1182.5,361 H1212 V366 H1194 V444 H1202 V506 H1204 V516.5 H1212 V582 H1203 V534 H1192.5 V516.5 H1184 V506 H1174.3 V444 H1182.5 Z" fill="url(#stone)"/>
<path d="M1092,453.4 H1175 V488.8 H1102.3 Z" fill="#ddd" filter="url(#gr)"/>
<rect x="1174.3" y="453.4" width="27.7" height="35.4" fill="#6f6f6f"/>
<rect x="1175" y="454.3" width="26.5" height="2.5" fill="#939393"/>
<rect x="1175" y="458.2" width="26.5" height="2.5" fill="#939393"/>
<rect x="1175" y="462.1" width="26.5" height="2.5" fill="#939393"/>
<rect x="1175" y="466.0" width="26.5" height="2.5" fill="#939393"/>
<rect x="1175" y="469.9" width="26.5" height="2.5" fill="#939393"/>
<rect x="1175" y="473.8" width="26.5" height="2.5" fill="#939393"/>
<rect x="1175" y="477.7" width="26.5" height="2.5" fill="#939393"/>
<rect x="1175" y="481.6" width="26.5" height="2.5" fill="#939393"/>
<rect x="1175" y="485.5" width="26.5" height="2.5" fill="#939393"/>
<path d="M1196,365 H1280.7 V401.8 H1336 V587.5 H1214 V515.5 H1204.5 V449.8 H1196 Z" fill="#e2e2e4"/>
<path d="M1196,369.5 V449.8 H1204.5 V515.5 H1214.2 V587.5 H1334.5" fill="none" stroke="#060606" stroke-width="5"/>
<rect x="1280.7" y="360.3" width="44.6" height="41.5" fill="url(#wood)"/>
<rect x="1325.3" y="390.5" width="11" height="11.3" fill="url(#wood2)"/>
<rect x="1336" y="390.5" width="13.2" height="197" fill="url(#wood2)"/>
<rect x="1292.4" y="349.5" width="31.1" height="9" fill="#fdfdfb"/>
<rect x="1333.5" y="360.3" width="23" height="27.7" fill="url(#stone)"/>
<path d="M1328.3,359 H1333.5 V386.2 H1343 V390.5 H1328.3 Z" fill="#fbfbf9" stroke="#d5d5d0" stroke-width="0.5"/>
<rect x="1327" y="592" width="22" height="19" fill="#ddd" filter="url(#gr)"/>
<rect x="1352.5" y="272" width="3.5" height="30" fill="#222"/>
<rect x="1330" y="268.75" width="23.75" height="36.25" fill="#eeeeee" stroke="#bdbdbd" stroke-width="0.8"/>
<path d="M1330,268.75 L1353.75,305 M1353.75,268.75 L1330,305" stroke="#bdbdbd" stroke-width="0.7"/>
<rect x="1330" y="302" width="23.75" height="3.5" fill="#f9f9f9"/>
<g filter="url(#tb)" transform="translate(1166,253.7) scale(1,1.122)">
<circle cx="12.7" cy="-2.3" r="10.7" fill="#4a8945"/>
<circle cx="9.7" cy="6.3" r="9.9" fill="#4a8945"/>
<circle cx="1.3" cy="12.6" r="9.0" fill="#4a8945"/>
<circle cx="-3.7" cy="12.3" r="9.9" fill="#4a8945"/>
<circle cx="-9.6" cy="2.1" r="9.9" fill="#4a8945"/>
<circle cx="-9.5" cy="-4.7" r="11.1" fill="#4a8945"/>
<circle cx="-3.1" cy="-9.4" r="8.9" fill="#4a8945"/>
<circle cx="2.6" cy="-13.0" r="9.8" fill="#4a8945"/>
<circle cx="7.6" cy="-8.5" r="8.9" fill="#4a8945"/>
<circle r="14.7" fill="#4a8945"/>
<path d="M14.0,-1.6 L19.3,0.5 L24.0,-2.7 L18.7,-4.8Z" fill="#428140" opacity="0.9"/>
<path d="M13.9,2.8 L17.8,6.0 L22.7,4.6 L18.7,1.4Z" fill="#468542" opacity="0.9"/>
<path d="M11.8,9.0 L12.6,14.3 L18.0,13.7 L17.2,8.4Z" fill="#468542" opacity="0.9"/>
<path d="M9.6,9.8 L11.4,16.2 L17.8,18.0 L16.1,11.5Z" fill="#468542" opacity="0.9"/>
<path d="M5.3,14.6 L4.3,20.0 L8.5,23.6 L9.5,18.2Z" fill="#367337" opacity="0.9"/>
<path d="M-2.4,15.4 L-6.2,19.2 L-3.7,23.9 L0.1,20.2Z" fill="#3b7a3b" opacity="0.9"/>
<path d="M-3.2,15.1 L-6.6,18.6 L-5.0,23.2 L-1.6,19.7Z" fill="#367337" opacity="0.9"/>
<path d="M-9.8,11.4 L-14.8,12.7 L-15.4,17.9 L-10.3,16.5Z" fill="#468542" opacity="0.9"/>
<path d="M-12.5,7.1 L-18.0,6.8 L-20.6,11.7 L-15.1,12.0Z" fill="#53914a" opacity="0.9"/>
<path d="M-13.3,7.2 L-19.9,7.2 L-23.4,12.7 L-16.8,12.7Z" fill="#428140" opacity="0.9"/>
<path d="M-14.2,1.9 L-20.8,-0.7 L-26.4,3.5 L-19.9,6.1Z" fill="#5b9a51" opacity="0.9"/>
<path d="M-12.0,-5.9 L-15.2,-11.6 L-21.8,-10.7 L-18.5,-5.0Z" fill="#367337" opacity="0.9"/>
<path d="M-11.0,-7.7 L-13.4,-13.9 L-20.0,-14.0 L-17.6,-7.9Z" fill="#53914a" opacity="0.9"/>
<path d="M-7.6,-13.5 L-7.3,-19.8 L-12.9,-22.8 L-13.2,-16.5Z" fill="#4d8c47" opacity="0.9"/>
<path d="M-4.4,-13.9 L-3.5,-19.0 L-7.2,-22.7 L-8.1,-17.6Z" fill="#4d8c47" opacity="0.9"/>
<path d="M0.4,-13.2 L3.5,-18.6 L0.7,-24.2 L-2.5,-18.8Z" fill="#428140" opacity="0.9"/>
<path d="M3.6,-14.0 L8.0,-18.2 L6.2,-24.0 L1.8,-19.8Z" fill="#5b9a51" opacity="0.9"/>
<path d="M5.7,-12.1 L10.5,-14.9 L9.6,-20.4 L4.8,-17.6Z" fill="#367337" opacity="0.9"/>
<path d="M13.5,-7.5 L19.3,-7.7 L22.5,-12.6 L16.7,-12.4Z" fill="#4d8c47" opacity="0.9"/>
<path d="M12.4,-3.1 L17.3,-1.9 L21.1,-5.3 L16.2,-6.4Z" fill="#468542" opacity="0.9"/>
<path d="M8.6,0.9 L14.1,4.2 L20.2,2.0 L14.7,-1.3Z" fill="#3b7a3b" opacity="0.9"/>
<path d="M8.6,4.2 L11.4,8.6 L16.5,8.1 L13.8,3.8Z" fill="#367337" opacity="0.9"/>
<path d="M5.2,7.5 L6.2,13.2 L11.2,16.2 L10.1,10.5Z" fill="#428140" opacity="0.9"/>
<path d="M2.0,8.6 L-0.5,13.9 L4.0,17.7 L6.5,12.3Z" fill="#367337" opacity="0.9"/>
<path d="M-0.8,9.8 L-3.6,15.2 L-1.8,21.0 L1.0,15.6Z" fill="#3b7a3b" opacity="0.9"/>
<path d="M-4.4,9.1 L-9.2,11.4 L-8.0,16.5 L-3.2,14.3Z" fill="#468542" opacity="0.9"/>
<path d="M-7.5,4.8 L-14.8,5.3 L-18.4,11.7 L-11.1,11.1Z" fill="#428140" opacity="0.9"/>
<path d="M-9.5,3.0 L-14.9,1.4 L-18.5,5.8 L-13.0,7.4Z" fill="#428140" opacity="0.9"/>
<path d="M-8.2,-2.1 L-12.4,-7.0 L-18.3,-4.7 L-14.2,0.2Z" fill="#4d8c47" opacity="0.9"/>
<path d="M-9.1,-5.1 L-11.0,-10.4 L-16.5,-9.4 L-14.6,-4.1Z" fill="#367337" opacity="0.9"/>
<path d="M-5.2,-7.3 L-4.8,-12.9 L-10.3,-14.4 L-10.6,-8.8Z" fill="#428140" opacity="0.9"/>
<path d="M-0.7,-10.7 L1.5,-15.5 L-1.3,-20.0 L-3.5,-15.2Z" fill="#4d8c47" opacity="0.9"/>
<path d="M3.8,-9.3 L8.3,-12.7 L7.5,-18.3 L3.0,-14.9Z" fill="#428140" opacity="0.9"/>
<path d="M4.6,-8.9 L9.0,-11.9 L8.9,-17.3 L4.4,-14.3Z" fill="#53914a" opacity="0.9"/>
<path d="M7.9,-4.5 L13.9,-4.7 L17.2,-9.8 L11.1,-9.6Z" fill="#4d8c47" opacity="0.9"/>
<path d="M8.4,-0.3 L13.5,2.3 L18.5,-0.6 L13.4,-3.2Z" fill="#4d8c47" opacity="0.9"/>
<path d="M2.0,1.1 L5.1,6.6 L11.4,6.4 L8.3,0.9Z" fill="#468542" opacity="0.9"/>
<path d="M0.9,2.1 L0.6,9.3 L6.2,13.7 L6.6,6.5Z" fill="#428140" opacity="0.9"/>
<path d="M-0.4,2.2 L-3.8,7.9 L-2.4,14.4 L1.0,8.7Z" fill="#428140" opacity="0.9"/>
<path d="M-1.4,1.7 L-7.9,4.4 L-9.6,11.2 L-3.1,8.5Z" fill="#4d8c47" opacity="0.9"/>
<path d="M-2.0,1.1 L-8.6,0.7 L-11.7,6.5 L-5.1,6.9Z" fill="#5b9a51" opacity="0.9"/>
<path d="M-2.5,-0.8 L-6.5,-5.2 L-12.3,-3.8 L-8.3,0.7Z" fill="#428140" opacity="0.9"/>
<path d="M-1.9,-1.0 L-5.9,-7.1 L-13.2,-7.2 L-9.2,-1.1Z" fill="#4d8c47" opacity="0.9"/>
<path d="M-0.9,-2.3 L-0.5,-9.1 L-5.5,-13.8 L-5.8,-7.0Z" fill="#367337" opacity="0.9"/>
<path d="M0.3,-2.1 L4.7,-7.1 L1.9,-13.1 L-2.4,-8.1Z" fill="#5b9a51" opacity="0.9"/>
<path d="M2.0,-1.3 L8.4,-1.4 L11.2,-7.2 L4.7,-7.1Z" fill="#4d8c47" opacity="0.9"/>
<path d="M2.3,-0.9 L8.0,-0.4 L11.9,-4.6 L6.2,-5.0Z" fill="#4d8c47" opacity="0.9"/>
</g>
<g filter="url(#tb)" transform="translate(1291.4,257) scale(1,1.000)">
<circle cx="7.6" cy="1.8" r="5.2" fill="#4a8945"/>
<circle cx="6.6" cy="3.5" r="6.2" fill="#4a8945"/>
<circle cx="0.6" cy="6.4" r="6.0" fill="#4a8945"/>
<circle cx="-3.8" cy="5.8" r="5.4" fill="#4a8945"/>
<circle cx="-6.1" cy="2.5" r="6.2" fill="#4a8945"/>
<circle cx="-6.4" cy="-4.4" r="5.9" fill="#4a8945"/>
<circle cx="-3.3" cy="-5.4" r="5.2" fill="#4a8945"/>
<circle cx="-0.4" cy="-6.7" r="5.6" fill="#4a8945"/>
<circle cx="5.5" cy="-5.2" r="5.9" fill="#4a8945"/>
<circle r="8.6" fill="#4a8945"/>
<path d="M7.8,0.2 L10.2,1.9 L12.7,0.3 L10.3,-1.4Z" fill="#3b7a3b" opacity="0.9"/>
<path d="M9.0,3.0 L11.0,5.2 L13.9,4.6 L11.9,2.3Z" fill="#468542" opacity="0.9"/>
<path d="M6.5,6.0 L7.5,9.7 L11.3,10.4 L10.3,6.7Z" fill="#468542" opacity="0.9"/>
<path d="M6.0,7.3 L6.7,10.6 L9.8,12.0 L9.1,8.7Z" fill="#367337" opacity="0.9"/>
<path d="M1.9,8.1 L0.8,11.4 L3.2,13.9 L4.3,10.6Z" fill="#468542" opacity="0.9"/>
<path d="M-0.0,9.1 L-2.1,11.4 L-0.0,13.7 L2.1,11.4Z" fill="#468542" opacity="0.9"/>
<path d="M-2.5,8.1 L-5.4,10.8 L-4.5,14.7 L-1.6,12.0Z" fill="#367337" opacity="0.9"/>
<path d="M-3.9,6.9 L-6.9,9.1 L-7.3,12.8 L-4.3,10.6Z" fill="#4d8c47" opacity="0.9"/>
<path d="M-6.9,6.1 L-10.0,5.9 L-10.2,9.0 L-7.1,9.2Z" fill="#5b9a51" opacity="0.9"/>
<path d="M-8.0,2.6 L-11.5,1.7 L-13.9,4.5 L-10.4,5.3Z" fill="#428140" opacity="0.9"/>
<path d="M-8.3,1.0 L-12.0,-0.5 L-15.3,1.8 L-11.6,3.3Z" fill="#53914a" opacity="0.9"/>
<path d="M-8.0,-3.8 L-10.3,-6.6 L-13.9,-6.6 L-11.6,-3.8Z" fill="#367337" opacity="0.9"/>
<path d="M-7.8,-3.8 L-9.3,-6.2 L-12.1,-5.9 L-10.6,-3.4Z" fill="#4d8c47" opacity="0.9"/>
<path d="M-6.0,-5.9 L-7.2,-9.5 L-10.7,-10.7 L-9.5,-7.2Z" fill="#428140" opacity="0.9"/>
<path d="M-1.3,-8.1 L-0.5,-11.6 L-2.4,-14.6 L-3.2,-11.1Z" fill="#5b9a51" opacity="0.9"/>
<path d="M-1.1,-8.7 L0.8,-11.0 L-1.7,-12.8 L-3.6,-10.4Z" fill="#53914a" opacity="0.9"/>
<path d="M2.9,-6.7 L6.0,-8.7 L5.3,-12.3 L2.2,-10.3Z" fill="#53914a" opacity="0.9"/>
<path d="M4.2,-7.7 L6.7,-9.2 L6.6,-12.1 L4.2,-10.6Z" fill="#367337" opacity="0.9"/>
<path d="M5.3,-5.1 L8.9,-5.9 L9.8,-9.5 L6.2,-8.7Z" fill="#4d8c47" opacity="0.9"/>
<path d="M7.2,-3.6 L10.0,-3.1 L11.4,-5.8 L8.5,-6.3Z" fill="#4d8c47" opacity="0.9"/>
<path d="M5.9,1.8 L8.1,4.7 L11.6,3.5 L9.4,0.7Z" fill="#367337" opacity="0.9"/>
<path d="M4.3,2.8 L6.2,6.1 L10.0,6.6 L8.1,3.3Z" fill="#3b7a3b" opacity="0.9"/>
<path d="M3.5,5.0 L3.2,8.0 L6.1,8.7 L6.3,5.8Z" fill="#428140" opacity="0.9"/>
<path d="M0.9,5.0 L0.1,9.0 L2.4,12.4 L3.2,8.4Z" fill="#367337" opacity="0.9"/>
<path d="M-0.8,4.8 L-2.9,7.9 L-2.0,11.5 L0.1,8.4Z" fill="#3b7a3b" opacity="0.9"/>
<path d="M-2.0,4.7 L-4.9,6.4 L-4.2,9.7 L-1.3,7.9Z" fill="#367337" opacity="0.9"/>
<path d="M-5.7,2.4 L-9.4,2.2 L-11.8,4.9 L-8.2,5.1Z" fill="#428140" opacity="0.9"/>
<path d="M-5.5,1.6 L-9.0,0.6 L-11.3,3.4 L-7.8,4.5Z" fill="#5b9a51" opacity="0.9"/>
<path d="M-5.4,-0.6 L-8.4,-2.2 L-11.5,-1.2 L-8.6,0.5Z" fill="#53914a" opacity="0.9"/>
<path d="M-4.3,-2.7 L-6.4,-5.9 L-10.3,-6.4 L-8.1,-3.2Z" fill="#428140" opacity="0.9"/>
<path d="M-3.4,-3.9 L-3.9,-7.3 L-7.1,-8.2 L-6.6,-4.9Z" fill="#5b9a51" opacity="0.9"/>
<path d="M-1.5,-5.6 L-0.1,-8.6 L-2.9,-10.5 L-4.3,-7.4Z" fill="#4d8c47" opacity="0.9"/>
<path d="M1.6,-5.3 L4.2,-7.6 L3.3,-11.1 L0.7,-8.7Z" fill="#53914a" opacity="0.9"/>
<path d="M3.0,-4.8 L5.6,-6.2 L5.7,-9.1 L3.1,-7.7Z" fill="#5b9a51" opacity="0.9"/>
<path d="M4.5,-3.3 L8.4,-3.9 L10.1,-7.5 L6.2,-6.9Z" fill="#367337" opacity="0.9"/>
<path d="M5.4,0.0 L7.9,2.0 L10.4,0.0 L7.9,-2.0Z" fill="#3b7a3b" opacity="0.9"/>
<path d="M1.4,0.5 L4.3,2.9 L8.0,2.7 L5.2,0.3Z" fill="#428140" opacity="0.9"/>
<path d="M0.8,1.1 L1.2,4.8 L4.5,6.2 L4.2,2.5Z" fill="#3b7a3b" opacity="0.9"/>
<path d="M0.2,1.3 L-0.8,5.3 L1.0,8.8 L2.0,4.9Z" fill="#468542" opacity="0.9"/>
<path d="M-0.6,1.3 L-3.5,3.6 L-3.2,7.3 L-0.3,5.0Z" fill="#468542" opacity="0.9"/>
<path d="M-1.1,0.6 L-4.5,0.8 L-6.6,3.6 L-3.2,3.4Z" fill="#367337" opacity="0.9"/>
<path d="M-1.5,-0.3 L-4.7,-2.2 L-8.4,-1.4 L-5.2,0.5Z" fill="#367337" opacity="0.9"/>
<path d="M-1.0,-1.1 L-2.2,-4.6 L-5.7,-5.8 L-4.6,-2.3Z" fill="#5b9a51" opacity="0.9"/>
<path d="M-0.3,-1.3 L0.8,-5.0 L-1.6,-8.0 L-2.7,-4.3Z" fill="#4d8c47" opacity="0.9"/>
<path d="M0.6,-1.4 L3.4,-4.2 L3.2,-8.1 L0.4,-5.4Z" fill="#53914a" opacity="0.9"/>
<path d="M1.0,-0.9 L4.8,-1.7 L5.9,-5.5 L2.1,-4.6Z" fill="#53914a" opacity="0.9"/>
<path d="M1.5,-0.2 L4.7,1.1 L7.4,-1.0 L4.2,-2.3Z" fill="#4d8c47" opacity="0.9"/>
</g>
<g filter="url(#tb)" transform="translate(1217.5,333.7) scale(1,1.146)">
<circle cx="11.5" cy="-1.5" r="9.5" fill="#4a8945"/>
<circle cx="8.7" cy="8.1" r="8.8" fill="#4a8945"/>
<circle cx="5.1" cy="11.5" r="9.3" fill="#4a8945"/>
<circle cx="-5.0" cy="12.2" r="9.8" fill="#4a8945"/>
<circle cx="-11.1" cy="2.0" r="10.2" fill="#4a8945"/>
<circle cx="-11.7" cy="-2.1" r="10.7" fill="#4a8945"/>
<circle cx="-6.0" cy="-10.7" r="10.3" fill="#4a8945"/>
<circle cx="-0.5" cy="-12.3" r="10.1" fill="#4a8945"/>
<circle cx="6.8" cy="-6.9" r="10.7" fill="#4a8945"/>
<circle r="14.4" fill="#4a8945"/>
<path d="M14.8,-0.2 L20.3,3.1 L25.6,-0.3 L20.2,-3.6Z" fill="#4d8c47" opacity="0.9"/>
<path d="M14.6,4.1 L17.6,8.7 L22.6,6.3 L19.6,1.7Z" fill="#468542" opacity="0.9"/>
<path d="M11.4,5.7 L14.0,11.2 L19.9,10.0 L17.3,4.6Z" fill="#428140" opacity="0.9"/>
<path d="M7.3,11.2 L7.7,17.1 L13.0,19.9 L12.5,14.0Z" fill="#428140" opacity="0.9"/>
<path d="M4.0,13.8 L2.4,20.2 L7.1,24.7 L8.7,18.3Z" fill="#468542" opacity="0.9"/>
<path d="M-2.2,15.6 L-5.4,19.6 L-3.5,24.3 L-0.4,20.3Z" fill="#468542" opacity="0.9"/>
<path d="M-7.4,13.6 L-12.4,15.8 L-11.5,21.1 L-6.6,19.0Z" fill="#428140" opacity="0.9"/>
<path d="M-9.9,10.4 L-14.5,11.7 L-15.6,16.4 L-11.0,15.0Z" fill="#4d8c47" opacity="0.9"/>
<path d="M-11.4,5.3 L-18.4,5.3 L-22.9,10.6 L-15.9,10.5Z" fill="#53914a" opacity="0.9"/>
<path d="M-13.8,5.8 L-19.6,5.7 L-23.6,9.9 L-17.8,10.0Z" fill="#5b9a51" opacity="0.9"/>
<path d="M-14.6,2.7 L-19.2,-0.1 L-22.5,4.1 L-17.9,6.9Z" fill="#4d8c47" opacity="0.9"/>
<path d="M-15.0,-4.9 L-17.6,-8.3 L-21.6,-7.1 L-19.1,-3.7Z" fill="#367337" opacity="0.9"/>
<path d="M-11.7,-5.5 L-15.0,-10.6 L-21.0,-9.9 L-17.7,-4.8Z" fill="#428140" opacity="0.9"/>
<path d="M-11.1,-10.6 L-11.3,-15.8 L-16.5,-15.7 L-16.4,-10.5Z" fill="#4d8c47" opacity="0.9"/>
<path d="M-4.9,-13.0 L-3.7,-18.8 L-8.5,-22.3 L-9.7,-16.5Z" fill="#367337" opacity="0.9"/>
<path d="M0.3,-14.5 L3.5,-20.1 L0.6,-25.9 L-2.6,-20.3Z" fill="#5b9a51" opacity="0.9"/>
<path d="M5.1,-12.1 L10.4,-15.0 L8.9,-20.9 L3.6,-17.9Z" fill="#5b9a51" opacity="0.9"/>
<path d="M7.4,-9.8 L13.2,-12.3 L14.1,-18.6 L8.2,-16.1Z" fill="#468542" opacity="0.9"/>
<path d="M12.1,-8.0 L16.8,-7.2 L18.0,-11.8 L13.3,-12.6Z" fill="#468542" opacity="0.9"/>
<path d="M13.1,-3.2 L19.4,-1.3 L24.0,-5.9 L17.8,-7.9Z" fill="#3b7a3b" opacity="0.9"/>
<path d="M9.8,0.2 L15.5,3.0 L21.3,0.5 L15.6,-2.3Z" fill="#367337" opacity="0.9"/>
<path d="M7.2,5.3 L9.6,10.4 L15.2,11.1 L12.8,5.9Z" fill="#428140" opacity="0.9"/>
<path d="M4.6,7.6 L4.3,13.6 L9.8,16.1 L10.1,10.1Z" fill="#3b7a3b" opacity="0.9"/>
<path d="M1.6,9.8 L-0.2,14.5 L3.1,18.4 L4.9,13.6Z" fill="#468542" opacity="0.9"/>
<path d="M-0.8,8.6 L-4.6,13.5 L-1.8,19.0 L2.0,14.1Z" fill="#3b7a3b" opacity="0.9"/>
<path d="M-4.5,7.8 L-9.9,11.4 L-10.3,18.0 L-4.9,14.3Z" fill="#4d8c47" opacity="0.9"/>
<path d="M-6.8,5.9 L-13.3,6.8 L-15.1,13.1 L-8.6,12.2Z" fill="#428140" opacity="0.9"/>
<path d="M-8.1,2.5 L-14.1,1.7 L-18.6,5.8 L-12.6,6.6Z" fill="#367337" opacity="0.9"/>
<path d="M-8.1,-2.8 L-11.6,-7.7 L-17.4,-6.1 L-13.9,-1.2Z" fill="#367337" opacity="0.9"/>
<path d="M-6.8,-5.9 L-8.4,-10.9 L-13.5,-11.7 L-11.9,-6.7Z" fill="#4d8c47" opacity="0.9"/>
<path d="M-5.6,-7.0 L-6.5,-12.7 L-11.9,-14.8 L-11.0,-9.1Z" fill="#5b9a51" opacity="0.9"/>
<path d="M-0.2,-8.5 L3.3,-13.0 L-0.4,-17.4 L-4.0,-12.9Z" fill="#4d8c47" opacity="0.9"/>
<path d="M3.5,-8.5 L9.2,-12.6 L8.2,-19.6 L2.5,-15.4Z" fill="#53914a" opacity="0.9"/>
<path d="M6.5,-7.8 L12.0,-9.7 L12.8,-15.4 L7.3,-13.6Z" fill="#53914a" opacity="0.9"/>
<path d="M6.9,-5.3 L12.4,-5.4 L14.0,-10.6 L8.6,-10.5Z" fill="#367337" opacity="0.9"/>
<path d="M8.2,-0.6 L14.8,2.3 L21.0,-1.4 L14.4,-4.3Z" fill="#4d8c47" opacity="0.9"/>
<path d="M2.2,1.4 L5.8,6.3 L11.8,7.4 L8.2,2.4Z" fill="#367337" opacity="0.9"/>
<path d="M1.5,1.7 L3.2,8.1 L9.4,10.5 L7.7,4.1Z" fill="#428140" opacity="0.9"/>
<path d="M-0.4,2.4 L-3.8,7.3 L-1.9,13.1 L1.5,8.1Z" fill="#468542" opacity="0.9"/>
<path d="M-1.3,2.2 L-6.2,5.5 L-6.7,11.4 L-1.8,8.1Z" fill="#468542" opacity="0.9"/>
<path d="M-2.0,0.7 L-9.1,-0.7 L-13.7,4.7 L-6.7,6.1Z" fill="#367337" opacity="0.9"/>
<path d="M-2.0,-0.5 L-7.0,-5.4 L-13.6,-3.4 L-8.7,1.5Z" fill="#53914a" opacity="0.9"/>
<path d="M-1.8,-1.2 L-5.0,-6.9 L-11.4,-7.7 L-8.2,-2.1Z" fill="#5b9a51" opacity="0.9"/>
<path d="M-0.4,-2.0 L1.0,-7.6 L-2.5,-12.1 L-3.9,-6.6Z" fill="#428140" opacity="0.9"/>
<path d="M0.2,-2.6 L3.2,-8.4 L1.2,-14.6 L-1.7,-8.8Z" fill="#5b9a51" opacity="0.9"/>
<path d="M1.5,-1.6 L7.7,-3.4 L9.1,-9.7 L2.9,-7.9Z" fill="#428140" opacity="0.9"/>
<path d="M2.1,-0.5 L8.0,0.7 L12.8,-3.0 L6.9,-4.1Z" fill="#367337" opacity="0.9"/>
</g>
<g filter="url(#tb)" transform="translate(1251.8,349.3) scale(1,1.000)">
<circle cx="6.0" cy="-0.8" r="5.8" fill="#4a8945"/>
<circle cx="5.2" cy="3.0" r="5.8" fill="#4a8945"/>
<circle cx="-0.3" cy="7.6" r="6.4" fill="#4a8945"/>
<circle cx="-2.6" cy="6.5" r="5.7" fill="#4a8945"/>
<circle cx="-5.3" cy="3.0" r="5.6" fill="#4a8945"/>
<circle cx="-6.5" cy="-4.1" r="6.4" fill="#4a8945"/>
<circle cx="-2.3" cy="-5.8" r="5.7" fill="#4a8945"/>
<circle cx="1.8" cy="-7.2" r="6.5" fill="#4a8945"/>
<circle cx="5.3" cy="-2.9" r="6.1" fill="#4a8945"/>
<circle r="8.8" fill="#4a8945"/>
<path d="M8.5,0.6 L10.8,2.6 L13.4,0.9 L11.1,-1.1Z" fill="#3b7a3b" opacity="0.9"/>
<path d="M8.3,4.4 L9.8,7.1 L12.9,6.8 L11.3,4.1Z" fill="#468542" opacity="0.9"/>
<path d="M7.4,5.7 L8.7,9.1 L12.3,9.5 L11.0,6.1Z" fill="#428140" opacity="0.9"/>
<path d="M4.7,7.0 L4.7,10.0 L7.4,11.1 L7.4,8.1Z" fill="#468542" opacity="0.9"/>
<path d="M3.6,6.6 L3.9,10.6 L7.1,13.0 L6.8,9.0Z" fill="#367337" opacity="0.9"/>
<path d="M0.1,8.2 L-1.4,12.1 L0.2,15.9 L1.7,12.0Z" fill="#367337" opacity="0.9"/>
<path d="M-1.7,8.7 L-3.9,10.7 L-2.7,13.5 L-0.5,11.4Z" fill="#468542" opacity="0.9"/>
<path d="M-4.6,7.4 L-7.7,9.5 L-8.3,13.3 L-5.2,11.1Z" fill="#428140" opacity="0.9"/>
<path d="M-6.8,6.1 L-9.9,6.8 L-10.9,9.9 L-7.8,9.2Z" fill="#53914a" opacity="0.9"/>
<path d="M-7.6,3.6 L-10.6,2.8 L-11.8,5.6 L-8.8,6.4Z" fill="#367337" opacity="0.9"/>
<path d="M-8.9,-1.6 L-12.0,-3.6 L-15.6,-2.9 L-12.5,-0.9Z" fill="#428140" opacity="0.9"/>
<path d="M-8.0,-4.4 L-9.1,-7.5 L-12.4,-6.8 L-11.3,-3.6Z" fill="#367337" opacity="0.9"/>
<path d="M-5.9,-5.5 L-6.6,-8.7 L-9.8,-9.2 L-9.1,-6.1Z" fill="#428140" opacity="0.9"/>
<path d="M-6.0,-7.5 L-6.2,-10.0 L-8.7,-10.9 L-8.4,-8.3Z" fill="#428140" opacity="0.9"/>
<path d="M-4.0,-8.3 L-3.5,-11.2 L-6.0,-12.6 L-6.5,-9.7Z" fill="#428140" opacity="0.9"/>
<path d="M1.6,-8.2 L3.5,-10.5 L2.6,-13.3 L0.7,-11.0Z" fill="#53914a" opacity="0.9"/>
<path d="M1.6,-8.8 L3.4,-10.7 L2.4,-13.1 L0.6,-11.2Z" fill="#5b9a51" opacity="0.9"/>
<path d="M4.9,-8.3 L7.4,-9.0 L6.7,-11.5 L4.2,-10.8Z" fill="#5b9a51" opacity="0.9"/>
<path d="M7.6,-5.9 L10.4,-6.1 L11.3,-8.9 L8.4,-8.7Z" fill="#367337" opacity="0.9"/>
<path d="M7.3,-4.0 L10.7,-3.4 L12.0,-6.5 L8.6,-7.2Z" fill="#4d8c47" opacity="0.9"/>
<path d="M4.9,1.0 L7.6,3.2 L11.0,2.2 L8.3,0.0Z" fill="#428140" opacity="0.9"/>
<path d="M5.5,2.9 L6.9,5.3 L9.6,5.1 L8.3,2.7Z" fill="#468542" opacity="0.9"/>
<path d="M3.4,5.4 L2.9,8.8 L6.1,9.8 L6.6,6.4Z" fill="#367337" opacity="0.9"/>
<path d="M0.5,6.0 L-0.8,9.0 L0.9,11.7 L2.2,8.8Z" fill="#428140" opacity="0.9"/>
<path d="M-2.1,5.9 L-4.9,8.4 L-4.4,12.1 L-1.7,9.6Z" fill="#468542" opacity="0.9"/>
<path d="M-3.9,4.5 L-7.4,5.8 L-8.2,9.5 L-4.6,8.2Z" fill="#468542" opacity="0.9"/>
<path d="M-4.7,2.6 L-9.0,2.5 L-11.2,6.3 L-6.8,6.4Z" fill="#53914a" opacity="0.9"/>
<path d="M-6.4,0.0 L-9.3,-1.4 L-12.2,0.1 L-9.3,1.5Z" fill="#4d8c47" opacity="0.9"/>
<path d="M-6.4,-0.3 L-9.2,-1.9 L-12.2,-0.6 L-9.4,1.0Z" fill="#428140" opacity="0.9"/>
<path d="M-4.6,-3.5 L-5.9,-7.2 L-9.9,-7.5 L-8.6,-3.7Z" fill="#428140" opacity="0.9"/>
<path d="M-4.5,-4.5 L-4.4,-7.5 L-7.5,-7.5 L-7.5,-4.4Z" fill="#428140" opacity="0.9"/>
<path d="M-0.4,-6.1 L1.2,-9.5 L-0.9,-12.7 L-2.5,-9.3Z" fill="#4d8c47" opacity="0.9"/>
<path d="M0.5,-5.9 L2.9,-8.5 L0.9,-11.3 L-1.5,-8.8Z" fill="#367337" opacity="0.9"/>
<path d="M3.1,-4.8 L5.7,-6.0 L5.8,-8.9 L3.3,-7.6Z" fill="#5b9a51" opacity="0.9"/>
<path d="M5.2,-3.5 L8.4,-3.8 L10.0,-6.7 L6.8,-6.4Z" fill="#367337" opacity="0.9"/>
<path d="M5.7,-0.5 L8.3,1.4 L10.5,-0.9 L7.9,-2.8Z" fill="#468542" opacity="0.9"/>
<path d="M1.4,0.3 L4.2,3.1 L7.9,1.9 L5.1,-0.9Z" fill="#428140" opacity="0.9"/>
<path d="M0.9,1.1 L2.3,5.0 L5.9,7.0 L4.6,3.1Z" fill="#3b7a3b" opacity="0.9"/>
<path d="M-0.0,1.6 L-1.9,4.9 L-0.2,8.3 L1.7,5.0Z" fill="#468542" opacity="0.9"/>
<path d="M-0.8,1.0 L-4.4,3.1 L-5.5,7.1 L-1.9,5.0Z" fill="#367337" opacity="0.9"/>
<path d="M-1.3,0.4 L-5.3,0.2 L-8.4,2.8 L-4.4,3.1Z" fill="#367337" opacity="0.9"/>
<path d="M-1.3,0.0 L-4.8,-1.6 L-8.3,0.1 L-4.8,1.8Z" fill="#5b9a51" opacity="0.9"/>
<path d="M-1.0,-1.1 L-1.7,-4.5 L-4.9,-5.6 L-4.2,-2.2Z" fill="#367337" opacity="0.9"/>
<path d="M-0.5,-1.4 L-0.1,-5.1 L-2.6,-7.9 L-2.9,-4.2Z" fill="#428140" opacity="0.9"/>
<path d="M0.5,-1.3 L4.1,-3.8 L3.4,-8.1 L-0.1,-5.6Z" fill="#5b9a51" opacity="0.9"/>
<path d="M1.1,-0.9 L5.1,-1.2 L6.3,-5.0 L2.3,-4.7Z" fill="#468542" opacity="0.9"/>
<path d="M1.4,-0.0 L5.2,2.1 L9.0,-0.1 L5.1,-2.1Z" fill="#367337" opacity="0.9"/>
</g>
<g filter="url(#tb)" transform="translate(1138,353.7) scale(1,1.000)">
<circle cx="6.9" cy="0.4" r="5.9" fill="#4a8945"/>
<circle cx="4.2" cy="5.5" r="6.1" fill="#4a8945"/>
<circle cx="2.5" cy="5.8" r="6.1" fill="#4a8945"/>
<circle cx="-4.1" cy="6.0" r="5.0" fill="#4a8945"/>
<circle cx="-5.5" cy="2.1" r="5.6" fill="#4a8945"/>
<circle cx="-5.0" cy="-2.0" r="5.2" fill="#4a8945"/>
<circle cx="-4.3" cy="-5.8" r="5.9" fill="#4a8945"/>
<circle cx="0.0" cy="-7.0" r="5.0" fill="#4a8945"/>
<circle cx="4.5" cy="-3.4" r="4.9" fill="#4a8945"/>
<circle r="8.1" fill="#4a8945"/>
<path d="M7.2,1.1 L9.5,3.5 L12.4,1.9 L10.1,-0.6Z" fill="#468542" opacity="0.9"/>
<path d="M8.6,2.0 L10.4,4.3 L13.1,3.1 L11.3,0.7Z" fill="#428140" opacity="0.9"/>
<path d="M5.7,6.0 L6.5,9.7 L10.2,10.6 L9.4,6.9Z" fill="#428140" opacity="0.9"/>
<path d="M4.6,5.6 L5.1,8.4 L7.8,9.6 L7.2,6.7Z" fill="#428140" opacity="0.9"/>
<path d="M1.9,6.6 L1.3,10.4 L3.7,13.3 L4.3,9.6Z" fill="#428140" opacity="0.9"/>
<path d="M-1.0,7.8 L-3.0,10.0 L-1.6,12.7 L0.4,10.5Z" fill="#468542" opacity="0.9"/>
<path d="M-1.2,8.8 L-3.3,10.1 L-1.6,11.9 L0.5,10.6Z" fill="#468542" opacity="0.9"/>
<path d="M-3.6,7.7 L-6.1,9.0 L-5.5,11.8 L-2.9,10.5Z" fill="#428140" opacity="0.9"/>
<path d="M-5.0,5.3 L-8.6,6.9 L-10.1,10.6 L-6.5,8.9Z" fill="#4d8c47" opacity="0.9"/>
<path d="M-8.7,1.2 L-11.0,-0.0 L-12.8,1.8 L-10.5,3.1Z" fill="#5b9a51" opacity="0.9"/>
<path d="M-7.1,-0.8 L-10.3,-3.1 L-14.0,-1.5 L-10.7,0.8Z" fill="#4d8c47" opacity="0.9"/>
<path d="M-8.7,-1.1 L-10.2,-2.9 L-12.1,-1.6 L-10.6,0.2Z" fill="#367337" opacity="0.9"/>
<path d="M-5.3,-5.4 L-6.5,-9.1 L-10.2,-10.4 L-9.0,-6.7Z" fill="#5b9a51" opacity="0.9"/>
<path d="M-4.7,-5.5 L-5.2,-8.3 L-7.8,-9.3 L-7.3,-6.5Z" fill="#367337" opacity="0.9"/>
<path d="M-0.8,-7.2 L1.0,-9.8 L-1.4,-12.0 L-3.2,-9.3Z" fill="#5b9a51" opacity="0.9"/>
<path d="M-0.3,-7.4 L1.6,-10.6 L-0.5,-13.6 L-2.4,-10.4Z" fill="#5b9a51" opacity="0.9"/>
<path d="M2.0,-6.7 L4.3,-10.0 L4.0,-13.9 L1.7,-10.7Z" fill="#5b9a51" opacity="0.9"/>
<path d="M4.9,-5.2 L8.8,-6.2 L9.7,-10.1 L5.8,-9.1Z" fill="#428140" opacity="0.9"/>
<path d="M6.2,-3.5 L9.5,-3.7 L11.5,-6.5 L8.1,-6.2Z" fill="#4d8c47" opacity="0.9"/>
<path d="M7.2,-3.0 L11.2,-2.5 L13.6,-5.7 L9.6,-6.2Z" fill="#4d8c47" opacity="0.9"/>
<path d="M5.2,0.9 L7.9,3.2 L11.2,2.1 L8.5,-0.2Z" fill="#428140" opacity="0.9"/>
<path d="M4.1,2.5 L5.4,5.8 L9.0,5.6 L7.7,2.3Z" fill="#468542" opacity="0.9"/>
<path d="M2.7,4.5 L2.8,7.5 L5.4,9.1 L5.2,6.1Z" fill="#428140" opacity="0.9"/>
<path d="M0.5,5.7 L-1.3,8.3 L0.8,10.5 L2.6,8.0Z" fill="#468542" opacity="0.9"/>
<path d="M-1.5,5.3 L-3.9,7.7 L-3.2,11.1 L-0.8,8.6Z" fill="#468542" opacity="0.9"/>
<path d="M-2.5,4.6 L-5.7,6.4 L-5.6,10.1 L-2.4,8.2Z" fill="#367337" opacity="0.9"/>
<path d="M-5.0,2.2 L-8.1,2.1 L-10.2,4.4 L-7.1,4.5Z" fill="#5b9a51" opacity="0.9"/>
<path d="M-5.3,1.6 L-8.4,0.5 L-10.4,3.1 L-7.2,4.2Z" fill="#5b9a51" opacity="0.9"/>
<path d="M-4.8,-1.6 L-7.1,-4.4 L-10.7,-3.5 L-8.3,-0.8Z" fill="#4d8c47" opacity="0.9"/>
<path d="M-4.9,-2.9 L-6.6,-6.0 L-10.1,-6.0 L-8.5,-2.8Z" fill="#4d8c47" opacity="0.9"/>
<path d="M-2.1,-4.9 L-1.9,-8.0 L-4.3,-10.1 L-4.5,-6.9Z" fill="#4d8c47" opacity="0.9"/>
<path d="M-0.1,-5.2 L1.7,-8.3 L-0.2,-11.3 L-2.0,-8.3Z" fill="#367337" opacity="0.9"/>
<path d="M0.4,-5.6 L2.4,-8.2 L0.8,-11.1 L-1.3,-8.5Z" fill="#5b9a51" opacity="0.9"/>
<path d="M3.4,-4.5 L6.6,-5.6 L6.7,-9.0 L3.5,-7.9Z" fill="#468542" opacity="0.9"/>
<path d="M3.9,-3.4 L7.1,-4.3 L8.4,-7.4 L5.2,-6.5Z" fill="#4d8c47" opacity="0.9"/>
<path d="M4.6,-0.7 L7.9,0.4 L10.7,-1.5 L7.5,-2.5Z" fill="#3b7a3b" opacity="0.9"/>
<path d="M1.2,0.3 L3.7,2.5 L6.9,1.8 L4.4,-0.3Z" fill="#3b7a3b" opacity="0.9"/>
<path d="M0.7,1.0 L1.2,4.8 L4.5,6.4 L4.1,2.7Z" fill="#3b7a3b" opacity="0.9"/>
<path d="M-0.2,1.1 L-2.1,4.1 L-1.0,7.5 L0.9,4.5Z" fill="#367337" opacity="0.9"/>
<path d="M-0.5,1.3 L-2.9,3.6 L-2.8,6.9 L-0.5,4.6Z" fill="#468542" opacity="0.9"/>
<path d="M-1.1,0.8 L-4.6,1.1 L-6.1,4.3 L-2.5,4.0Z" fill="#367337" opacity="0.9"/>
<path d="M-1.3,-0.3 L-4.2,-2.9 L-8.0,-2.0 L-5.0,0.6Z" fill="#5b9a51" opacity="0.9"/>
<path d="M-1.2,-0.7 L-2.8,-4.1 L-6.7,-4.0 L-5.0,-0.6Z" fill="#4d8c47" opacity="0.9"/>
<path d="M-0.3,-1.2 L-0.0,-5.0 L-2.2,-8.0 L-2.5,-4.3Z" fill="#428140" opacity="0.9"/>
<path d="M0.4,-1.3 L2.9,-3.6 L2.0,-6.8 L-0.5,-4.6Z" fill="#367337" opacity="0.9"/>
<path d="M0.9,-0.9 L4.1,-2.0 L5.1,-5.2 L1.9,-4.1Z" fill="#367337" opacity="0.9"/>
<path d="M1.4,-0.3 L5.2,0.7 L8.2,-1.8 L4.4,-2.8Z" fill="#428140" opacity="0.9"/>
</g>
<g filter="url(#tb)" transform="translate(1166.5,353.3) scale(1,1.000)">
<circle cx="7.2" cy="1.1" r="5.7" fill="#4a8945"/>
<circle cx="4.7" cy="3.1" r="6.0" fill="#4a8945"/>
<circle cx="1.4" cy="7.1" r="5.6" fill="#4a8945"/>
<circle cx="-3.8" cy="4.9" r="6.2" fill="#4a8945"/>
<circle cx="-6.3" cy="1.5" r="5.8" fill="#4a8945"/>
<circle cx="-5.4" cy="-2.6" r="5.8" fill="#4a8945"/>
<circle cx="-2.2" cy="-5.7" r="6.2" fill="#4a8945"/>
<circle cx="1.9" cy="-7.1" r="5.5" fill="#4a8945"/>
<circle cx="4.5" cy="-5.7" r="6.2" fill="#4a8945"/>
<circle r="8.4" fill="#4a8945"/>
<path d="M7.3,-0.2 L10.2,1.7 L12.9,-0.3 L10.1,-2.1Z" fill="#428140" opacity="0.9"/>
<path d="M7.4,4.0 L8.5,6.7 L11.4,6.2 L10.3,3.4Z" fill="#428140" opacity="0.9"/>
<path d="M6.3,6.5 L6.6,9.5 L9.7,10.0 L9.3,6.9Z" fill="#367337" opacity="0.9"/>
<path d="M4.5,8.0 L3.8,10.3 L6.0,10.9 L6.7,8.7Z" fill="#367337" opacity="0.9"/>
<path d="M3.2,7.7 L2.1,10.5 L4.8,11.7 L5.9,8.9Z" fill="#367337" opacity="0.9"/>
<path d="M1.3,8.4 L0.2,11.0 L2.0,13.1 L3.2,10.6Z" fill="#367337" opacity="0.9"/>
<path d="M-1.3,7.5 L-3.8,10.8 L-2.5,14.7 L0.0,11.4Z" fill="#3b7a3b" opacity="0.9"/>
<path d="M-4.8,5.3 L-8.5,6.2 L-9.0,9.9 L-5.4,9.0Z" fill="#468542" opacity="0.9"/>
<path d="M-6.0,5.1 L-9.1,5.9 L-10.3,8.8 L-7.2,8.1Z" fill="#367337" opacity="0.9"/>
<path d="M-7.1,3.8 L-10.7,3.9 L-12.8,6.9 L-9.2,6.8Z" fill="#367337" opacity="0.9"/>
<path d="M-9.1,0.9 L-12.2,-0.7 L-14.9,1.5 L-11.8,3.1Z" fill="#367337" opacity="0.9"/>
<path d="M-8.5,-2.6 L-10.8,-5.1 L-14.1,-4.2 L-11.8,-1.7Z" fill="#5b9a51" opacity="0.9"/>
<path d="M-6.1,-5.2 L-6.5,-8.2 L-9.6,-8.2 L-9.1,-5.2Z" fill="#5b9a51" opacity="0.9"/>
<path d="M-5.2,-7.1 L-5.3,-9.5 L-7.6,-10.4 L-7.5,-7.9Z" fill="#428140" opacity="0.9"/>
<path d="M-2.2,-7.6 L-1.2,-10.6 L-3.6,-12.6 L-4.5,-9.6Z" fill="#4d8c47" opacity="0.9"/>
<path d="M-0.8,-8.0 L0.7,-11.6 L-1.5,-14.9 L-3.0,-11.2Z" fill="#428140" opacity="0.9"/>
<path d="M2.4,-7.8 L4.7,-9.5 L3.8,-12.2 L1.5,-10.5Z" fill="#428140" opacity="0.9"/>
<path d="M5.3,-5.7 L9.1,-6.6 L9.7,-10.5 L6.0,-9.6Z" fill="#367337" opacity="0.9"/>
<path d="M6.5,-5.3 L9.5,-5.5 L10.4,-8.3 L7.4,-8.1Z" fill="#468542" opacity="0.9"/>
<path d="M8.9,-1.8 L11.2,-0.9 L13.0,-2.6 L10.7,-3.5Z" fill="#367337" opacity="0.9"/>
<path d="M4.8,0.1 L8.3,1.6 L12.0,0.3 L8.4,-1.2Z" fill="#468542" opacity="0.9"/>
<path d="M5.2,3.1 L7.1,5.9 L10.4,6.2 L8.5,3.5Z" fill="#3b7a3b" opacity="0.9"/>
<path d="M2.2,5.2 L1.5,8.5 L4.4,10.2 L5.1,6.9Z" fill="#468542" opacity="0.9"/>
<path d="M1.1,5.3 L-0.1,8.1 L2.0,10.2 L3.2,7.4Z" fill="#3b7a3b" opacity="0.9"/>
<path d="M-1.4,5.4 L-3.8,7.3 L-2.6,10.1 L-0.2,8.2Z" fill="#428140" opacity="0.9"/>
<path d="M-2.4,5.1 L-5.5,6.8 L-4.7,10.2 L-1.7,8.5Z" fill="#468542" opacity="0.9"/>
<path d="M-4.3,2.4 L-8.1,2.9 L-10.6,5.9 L-6.8,5.4Z" fill="#5b9a51" opacity="0.9"/>
<path d="M-6.0,0.2 L-9.2,-1.5 L-12.2,0.3 L-9.1,2.0Z" fill="#367337" opacity="0.9"/>
<path d="M-4.7,-1.5 L-7.6,-4.7 L-11.7,-3.8 L-8.9,-0.7Z" fill="#5b9a51" opacity="0.9"/>
<path d="M-4.1,-3.5 L-4.9,-6.7 L-8.2,-7.0 L-7.4,-3.7Z" fill="#428140" opacity="0.9"/>
<path d="M-2.8,-5.5 L-1.9,-8.5 L-4.8,-9.6 L-5.7,-6.6Z" fill="#428140" opacity="0.9"/>
<path d="M-0.3,-5.1 L1.3,-8.9 L-0.6,-12.4 L-2.1,-8.7Z" fill="#4d8c47" opacity="0.9"/>
<path d="M0.1,-4.9 L2.0,-8.4 L0.2,-12.1 L-1.8,-8.5Z" fill="#5b9a51" opacity="0.9"/>
<path d="M2.0,-4.6 L4.4,-6.8 L4.3,-10.1 L1.9,-7.9Z" fill="#367337" opacity="0.9"/>
<path d="M5.4,-2.8 L8.7,-2.7 L10.5,-5.4 L7.2,-5.6Z" fill="#428140" opacity="0.9"/>
<path d="M4.9,-0.5 L8.3,0.9 L11.4,-1.1 L8.0,-2.5Z" fill="#367337" opacity="0.9"/>
<path d="M1.2,0.3 L4.2,2.4 L7.8,1.8 L4.8,-0.3Z" fill="#367337" opacity="0.9"/>
<path d="M0.9,1.0 L1.6,4.4 L5.0,5.5 L4.3,2.0Z" fill="#428140" opacity="0.9"/>
<path d="M0.2,1.3 L-1.4,4.9 L1.1,8.0 L2.7,4.3Z" fill="#428140" opacity="0.9"/>
<path d="M-0.5,1.2 L-3.4,3.3 L-3.0,6.9 L-0.1,4.8Z" fill="#4d8c47" opacity="0.9"/>
<path d="M-1.1,0.5 L-4.8,0.3 L-7.0,3.2 L-3.4,3.4Z" fill="#428140" opacity="0.9"/>
<path d="M-1.5,-0.1 L-4.7,-2.2 L-8.0,-0.6 L-4.9,1.5Z" fill="#367337" opacity="0.9"/>
<path d="M-1.1,-1.0 L-2.1,-4.5 L-5.7,-5.3 L-4.7,-1.7Z" fill="#4d8c47" opacity="0.9"/>
<path d="M-0.6,-1.3 L-0.7,-4.7 L-3.4,-7.0 L-3.3,-3.5Z" fill="#428140" opacity="0.9"/>
<path d="M0.4,-1.2 L3.0,-4.0 L2.9,-7.8 L0.4,-5.0Z" fill="#428140" opacity="0.9"/>
<path d="M0.8,-1.1 L4.2,-3.0 L5.1,-6.8 L1.7,-4.9Z" fill="#428140" opacity="0.9"/>
<path d="M1.3,-0.0 L4.6,1.9 L7.9,-0.0 L4.6,-2.0Z" fill="#468542" opacity="0.9"/>
</g>
<g filter="url(#tb)" transform="translate(1135,400) scale(1,1.080)">
<circle cx="10.5" cy="-0.9" r="10.6" fill="#4a8945"/>
<circle cx="10.6" cy="5.6" r="9.9" fill="#4a8945"/>
<circle cx="4.6" cy="11.0" r="9.1" fill="#4a8945"/>
<circle cx="-4.8" cy="9.1" r="9.2" fill="#4a8945"/>
<circle cx="-12.1" cy="4.9" r="9.3" fill="#4a8945"/>
<circle cx="-12.1" cy="-2.6" r="11.4" fill="#4a8945"/>
<circle cx="-5.4" cy="-10.2" r="11.4" fill="#4a8945"/>
<circle cx="-0.7" cy="-13.2" r="9.7" fill="#4a8945"/>
<circle cx="6.7" cy="-8.0" r="9.8" fill="#4a8945"/>
<circle r="15.0" fill="#4a8945"/>
<path d="M13.3,1.7 L18.7,5.6 L24.9,3.2 L19.5,-0.8Z" fill="#428140" opacity="0.9"/>
<path d="M12.3,4.2 L15.9,8.2 L21.2,7.3 L17.6,3.3Z" fill="#367337" opacity="0.9"/>
<path d="M11.5,7.9 L14.5,13.5 L20.8,14.2 L17.8,8.6Z" fill="#428140" opacity="0.9"/>
<path d="M7.5,13.4 L6.7,18.4 L11.4,20.4 L12.2,15.4Z" fill="#367337" opacity="0.9"/>
<path d="M2.5,15.3 L-0.5,19.9 L3.9,23.3 L6.9,18.7Z" fill="#3b7a3b" opacity="0.9"/>
<path d="M0.5,15.6 L-2.4,19.3 L0.7,22.9 L3.6,19.1Z" fill="#3b7a3b" opacity="0.9"/>
<path d="M-5.8,14.5 L-10.9,17.6 L-9.3,23.3 L-4.3,20.2Z" fill="#367337" opacity="0.9"/>
<path d="M-9.7,11.4 L-15.3,13.3 L-16.3,19.1 L-10.8,17.2Z" fill="#4d8c47" opacity="0.9"/>
<path d="M-13.1,6.3 L-19.1,6.6 L-23.0,11.1 L-17.0,10.9Z" fill="#5b9a51" opacity="0.9"/>
<path d="M-15.9,4.2 L-21.4,2.8 L-25.5,6.7 L-20.0,8.0Z" fill="#428140" opacity="0.9"/>
<path d="M-12.8,-0.9 L-18.5,-3.8 L-24.4,-1.7 L-18.8,1.3Z" fill="#428140" opacity="0.9"/>
<path d="M-15.5,-2.1 L-18.7,-5.3 L-22.6,-3.1 L-19.4,-0.0Z" fill="#5b9a51" opacity="0.9"/>
<path d="M-9.3,-9.2 L-11.2,-15.3 L-17.4,-17.1 L-15.5,-10.9Z" fill="#4d8c47" opacity="0.9"/>
<path d="M-7.7,-14.0 L-6.9,-18.7 L-11.3,-20.7 L-12.0,-16.0Z" fill="#5b9a51" opacity="0.9"/>
<path d="M-2.6,-16.1 L-0.6,-19.8 L-3.7,-22.6 L-5.7,-19.0Z" fill="#428140" opacity="0.9"/>
<path d="M-1.6,-14.5 L0.6,-20.0 L-2.7,-25.0 L-4.8,-19.5Z" fill="#53914a" opacity="0.9"/>
<path d="M3.9,-13.6 L9.0,-17.8 L7.0,-24.1 L1.9,-19.8Z" fill="#5b9a51" opacity="0.9"/>
<path d="M8.9,-12.1 L14.0,-15.0 L15.2,-20.6 L10.1,-17.8Z" fill="#367337" opacity="0.9"/>
<path d="M13.9,-7.9 L19.8,-7.9 L22.8,-13.0 L17.0,-12.9Z" fill="#367337" opacity="0.9"/>
<path d="M13.5,-6.9 L17.8,-6.4 L20.0,-10.2 L15.6,-10.7Z" fill="#428140" opacity="0.9"/>
<path d="M9.3,0.6 L13.6,3.2 L18.2,1.2 L13.9,-1.4Z" fill="#3b7a3b" opacity="0.9"/>
<path d="M8.5,4.0 L11.0,9.0 L16.5,7.6 L14.0,2.6Z" fill="#367337" opacity="0.9"/>
<path d="M6.1,6.8 L7.4,12.6 L13.0,14.6 L11.6,8.8Z" fill="#3b7a3b" opacity="0.9"/>
<path d="M0.6,11.0 L-2.2,15.7 L1.1,20.0 L3.8,15.3Z" fill="#3b7a3b" opacity="0.9"/>
<path d="M-0.4,9.3 L-4.1,14.1 L-0.8,19.2 L2.9,14.4Z" fill="#428140" opacity="0.9"/>
<path d="M-4.3,10.0 L-8.4,13.4 L-7.9,18.7 L-3.8,15.3Z" fill="#468542" opacity="0.9"/>
<path d="M-7.0,6.9 L-13.9,8.7 L-15.9,15.5 L-9.0,13.7Z" fill="#5b9a51" opacity="0.9"/>
<path d="M-9.0,2.7 L-14.5,0.7 L-18.0,5.3 L-12.5,7.3Z" fill="#5b9a51" opacity="0.9"/>
<path d="M-8.9,-2.9 L-12.4,-7.6 L-18.1,-5.8 L-14.5,-1.0Z" fill="#4d8c47" opacity="0.9"/>
<path d="M-7.8,-7.0 L-9.6,-13.2 L-16.0,-14.4 L-14.2,-8.2Z" fill="#428140" opacity="0.9"/>
<path d="M-5.1,-7.9 L-5.6,-12.8 L-9.9,-15.2 L-9.5,-10.3Z" fill="#5b9a51" opacity="0.9"/>
<path d="M-2.9,-9.8 L-1.8,-16.3 L-6.3,-21.2 L-7.4,-14.7Z" fill="#4d8c47" opacity="0.9"/>
<path d="M4.2,-10.0 L8.3,-13.1 L7.6,-18.1 L3.5,-15.1Z" fill="#53914a" opacity="0.9"/>
<path d="M4.1,-8.0 L10.0,-11.6 L9.4,-18.5 L3.5,-14.9Z" fill="#367337" opacity="0.9"/>
<path d="M8.4,-5.7 L14.5,-6.8 L17.8,-12.0 L11.7,-10.8Z" fill="#468542" opacity="0.9"/>
<path d="M10.5,-0.3 L15.9,2.5 L21.2,-0.6 L15.8,-3.4Z" fill="#428140" opacity="0.9"/>
<path d="M2.0,1.2 L5.8,7.5 L13.2,7.5 L9.4,1.1Z" fill="#428140" opacity="0.9"/>
<path d="M1.6,2.2 L3.2,8.6 L8.9,12.0 L7.3,5.6Z" fill="#3b7a3b" opacity="0.9"/>
<path d="M0.4,2.7 L-1.0,9.2 L2.5,15.0 L4.0,8.4Z" fill="#468542" opacity="0.9"/>
<path d="M-1.7,1.9 L-7.8,4.0 L-9.3,10.2 L-3.2,8.1Z" fill="#428140" opacity="0.9"/>
<path d="M-2.2,1.7 L-8.8,2.8 L-11.7,8.9 L-5.1,7.7Z" fill="#367337" opacity="0.9"/>
<path d="M-2.7,-0.2 L-8.7,-3.4 L-15.2,-1.3 L-9.1,1.8Z" fill="#428140" opacity="0.9"/>
<path d="M-1.9,-1.3 L-5.4,-7.0 L-12.0,-8.2 L-8.4,-2.6Z" fill="#5b9a51" opacity="0.9"/>
<path d="M-1.2,-2.4 L-1.0,-8.7 L-6.2,-12.4 L-6.3,-6.1Z" fill="#367337" opacity="0.9"/>
<path d="M1.0,-2.2 L6.4,-6.9 L6.3,-14.2 L0.9,-9.4Z" fill="#5b9a51" opacity="0.9"/>
<path d="M1.6,-1.4 L7.7,-3.5 L10.5,-9.4 L4.3,-7.3Z" fill="#428140" opacity="0.9"/>
<path d="M2.2,-0.1 L8.4,2.9 L14.2,-0.7 L8.0,-3.8Z" fill="#367337" opacity="0.9"/>
</g>
<g filter="url(#tb)" transform="translate(1158,554.5) scale(1,1.080)">
<circle cx="13.5" cy="-1.9" r="9.3" fill="#4a8945"/>
<circle cx="7.2" cy="7.4" r="9.6" fill="#4a8945"/>
<circle cx="-0.8" cy="10.8" r="10.6" fill="#4a8945"/>
<circle cx="-5.6" cy="10.2" r="10.2" fill="#4a8945"/>
<circle cx="-11.5" cy="6.3" r="9.2" fill="#4a8945"/>
<circle cx="-9.8" cy="-2.2" r="9.7" fill="#4a8945"/>
<circle cx="-7.2" cy="-11.3" r="9.9" fill="#4a8945"/>
<circle cx="-0.2" cy="-11.0" r="11.5" fill="#4a8945"/>
<circle cx="7.5" cy="-9.8" r="9.9" fill="#4a8945"/>
<circle r="15.0" fill="#4a8945"/>
<path d="M14.0,0.9 L19.6,4.3 L25.6,1.7 L20.0,-1.7Z" fill="#367337" opacity="0.9"/>
<path d="M13.3,6.8 L15.7,10.8 L20.3,10.4 L17.9,6.5Z" fill="#468542" opacity="0.9"/>
<path d="M10.9,7.9 L14.6,14.4 L21.9,15.8 L18.3,9.3Z" fill="#367337" opacity="0.9"/>
<path d="M6.3,12.3 L5.5,18.4 L11.0,21.3 L11.8,15.2Z" fill="#3b7a3b" opacity="0.9"/>
<path d="M2.7,12.8 L0.8,19.7 L5.3,25.1 L7.3,18.3Z" fill="#468542" opacity="0.9"/>
<path d="M-2.0,14.5 L-5.1,18.4 L-3.2,22.9 L-0.1,19.1Z" fill="#367337" opacity="0.9"/>
<path d="M-4.1,12.4 L-9.1,18.0 L-8.4,25.5 L-3.3,19.9Z" fill="#468542" opacity="0.9"/>
<path d="M-6.7,11.9 L-11.3,14.2 L-10.9,19.3 L-6.4,17.0Z" fill="#367337" opacity="0.9"/>
<path d="M-11.2,8.7 L-18.2,9.6 L-20.9,16.2 L-13.9,15.3Z" fill="#53914a" opacity="0.9"/>
<path d="M-12.5,4.7 L-19.5,3.3 L-23.9,8.9 L-17.0,10.3Z" fill="#53914a" opacity="0.9"/>
<path d="M-13.8,-1.5 L-17.6,-5.3 L-22.0,-2.4 L-18.3,1.5Z" fill="#5b9a51" opacity="0.9"/>
<path d="M-14.1,-2.6 L-18.0,-6.3 L-22.9,-4.2 L-19.1,-0.6Z" fill="#5b9a51" opacity="0.9"/>
<path d="M-12.4,-8.4 L-14.6,-12.8 L-19.5,-13.2 L-17.3,-8.8Z" fill="#428140" opacity="0.9"/>
<path d="M-10.4,-10.4 L-11.2,-16.1 L-17.0,-16.9 L-16.1,-11.2Z" fill="#5b9a51" opacity="0.9"/>
<path d="M-3.8,-16.0 L-2.2,-19.4 L-5.1,-21.8 L-6.7,-18.4Z" fill="#428140" opacity="0.9"/>
<path d="M-0.7,-14.9 L1.9,-20.5 L-1.2,-25.9 L-3.7,-20.3Z" fill="#4d8c47" opacity="0.9"/>
<path d="M1.8,-15.8 L5.8,-19.0 L2.7,-23.0 L-1.3,-19.8Z" fill="#53914a" opacity="0.9"/>
<path d="M11.3,-10.7 L17.7,-12.4 L19.8,-18.7 L13.4,-17.0Z" fill="#367337" opacity="0.9"/>
<path d="M13.0,-6.1 L18.1,-5.0 L20.4,-9.6 L15.4,-10.7Z" fill="#367337" opacity="0.9"/>
<path d="M12.6,-4.3 L18.1,-2.8 L21.5,-7.3 L16.1,-8.7Z" fill="#367337" opacity="0.9"/>
<path d="M9.6,0.5 L15.2,4.1 L21.1,1.1 L15.5,-2.6Z" fill="#367337" opacity="0.9"/>
<path d="M8.0,4.9 L10.8,9.6 L16.2,9.9 L13.5,5.2Z" fill="#428140" opacity="0.9"/>
<path d="M7.0,7.6 L8.3,13.7 L14.2,15.5 L13.0,9.4Z" fill="#3b7a3b" opacity="0.9"/>
<path d="M2.3,9.3 L-0.2,14.5 L4.5,17.9 L7.0,12.7Z" fill="#468542" opacity="0.9"/>
<path d="M-2.0,10.1 L-5.5,13.8 L-3.8,18.5 L-0.3,14.8Z" fill="#367337" opacity="0.9"/>
<path d="M-6.4,7.8 L-11.4,8.8 L-11.5,13.9 L-6.5,12.9Z" fill="#4d8c47" opacity="0.9"/>
<path d="M-9.6,5.1 L-15.8,5.4 L-19.6,10.4 L-13.4,10.1Z" fill="#428140" opacity="0.9"/>
<path d="M-10.8,1.9 L-15.7,-1.0 L-19.3,3.4 L-14.4,6.2Z" fill="#367337" opacity="0.9"/>
<path d="M-9.8,-2.1 L-15.1,-6.7 L-21.7,-4.5 L-16.5,0.1Z" fill="#428140" opacity="0.9"/>
<path d="M-6.7,-6.0 L-8.2,-12.3 L-14.6,-13.1 L-13.1,-6.8Z" fill="#4d8c47" opacity="0.9"/>
<path d="M-5.7,-7.3 L-6.4,-14.0 L-12.7,-16.3 L-11.9,-9.6Z" fill="#367337" opacity="0.9"/>
<path d="M-0.2,-10.3 L2.9,-16.0 L-0.4,-21.5 L-3.5,-15.9Z" fill="#428140" opacity="0.9"/>
<path d="M1.7,-9.6 L6.0,-14.2 L3.5,-20.0 L-0.9,-15.4Z" fill="#428140" opacity="0.9"/>
<path d="M4.2,-9.4 L8.7,-12.3 L7.8,-17.5 L3.4,-14.7Z" fill="#53914a" opacity="0.9"/>
<path d="M8.3,-4.0 L14.3,-3.1 L17.3,-8.5 L11.3,-9.4Z" fill="#367337" opacity="0.9"/>
<path d="M10.3,-3.0 L15.5,-1.5 L19.0,-5.5 L13.9,-7.0Z" fill="#4d8c47" opacity="0.9"/>
<path d="M2.3,1.3 L5.3,7.0 L11.7,6.7 L8.7,0.9Z" fill="#367337" opacity="0.9"/>
<path d="M1.1,2.1 L0.9,9.3 L6.8,13.5 L7.0,6.2Z" fill="#428140" opacity="0.9"/>
<path d="M-0.1,2.6 L-3.9,9.0 L-0.5,15.7 L3.3,9.3Z" fill="#468542" opacity="0.9"/>
<path d="M-1.0,2.3 L-5.6,7.0 L-5.7,13.7 L-1.1,8.9Z" fill="#367337" opacity="0.9"/>
<path d="M-2.6,0.8 L-9.4,0.5 L-14.8,4.7 L-7.9,5.1Z" fill="#5b9a51" opacity="0.9"/>
<path d="M-2.4,-0.7 L-7.2,-4.4 L-13.2,-3.5 L-8.5,0.2Z" fill="#4d8c47" opacity="0.9"/>
<path d="M-1.7,-1.9 L-3.0,-8.4 L-9.4,-10.2 L-8.1,-3.7Z" fill="#4d8c47" opacity="0.9"/>
<path d="M-0.6,-2.4 L0.9,-8.5 L-3.0,-13.4 L-4.5,-7.3Z" fill="#5b9a51" opacity="0.9"/>
<path d="M0.5,-2.4 L4.7,-7.0 L2.4,-12.9 L-1.8,-8.3Z" fill="#428140" opacity="0.9"/>
<path d="M1.5,-1.8 L7.4,-4.4 L8.9,-10.7 L2.9,-8.1Z" fill="#5b9a51" opacity="0.9"/>
<path d="M2.1,-0.7 L8.3,-0.2 L12.9,-4.4 L6.7,-5.0Z" fill="#468542" opacity="0.9"/>
</g>
<g filter="url(#tb)" transform="translate(1346.8,647.5) scale(1,1.106)">
<circle cx="6.0" cy="-0.1" r="4.9" fill="#4a8945"/>
<circle cx="3.4" cy="4.1" r="5.4" fill="#4a8945"/>
<circle cx="-0.1" cy="5.4" r="5.5" fill="#4a8945"/>
<circle cx="-2.9" cy="4.5" r="5.3" fill="#4a8945"/>
<circle cx="-6.0" cy="1.5" r="5.7" fill="#4a8945"/>
<circle cx="-5.7" cy="-1.0" r="4.9" fill="#4a8945"/>
<circle cx="-3.5" cy="-6.2" r="5.5" fill="#4a8945"/>
<circle cx="1.9" cy="-5.7" r="5.7" fill="#4a8945"/>
<circle cx="3.7" cy="-4.6" r="5.6" fill="#4a8945"/>
<circle r="7.9" fill="#4a8945"/>
<path d="M7.5,0.7 L9.6,2.4 L11.9,1.1 L9.8,-0.6Z" fill="#428140" opacity="0.9"/>
<path d="M8.1,1.9 L9.6,4.2 L11.9,2.7 L10.5,0.4Z" fill="#468542" opacity="0.9"/>
<path d="M6.7,3.3 L8.7,5.6 L11.7,5.7 L9.8,3.3Z" fill="#428140" opacity="0.9"/>
<path d="M3.1,6.2 L3.3,9.7 L6.0,11.9 L5.8,8.4Z" fill="#367337" opacity="0.9"/>
<path d="M1.1,7.0 L0.1,9.5 L1.8,11.5 L2.8,9.1Z" fill="#367337" opacity="0.9"/>
<path d="M1.3,6.8 L-0.0,10.2 L2.5,12.8 L3.9,9.4Z" fill="#428140" opacity="0.9"/>
<path d="M-2.2,7.7 L-4.4,9.1 L-3.2,11.5 L-1.0,10.1Z" fill="#428140" opacity="0.9"/>
<path d="M-5.4,6.8 L-7.7,6.9 L-7.4,9.2 L-5.0,9.1Z" fill="#468542" opacity="0.9"/>
<path d="M-5.2,5.0 L-9.2,6.1 L-10.4,10.0 L-6.4,9.0Z" fill="#468542" opacity="0.9"/>
<path d="M-8.4,2.0 L-10.6,0.7 L-12.0,2.8 L-9.8,4.1Z" fill="#53914a" opacity="0.9"/>
<path d="M-8.1,0.4 L-10.8,-1.3 L-13.3,0.7 L-10.6,2.5Z" fill="#53914a" opacity="0.9"/>
<path d="M-8.2,-2.1 L-10.1,-4.3 L-12.8,-3.3 L-10.9,-1.1Z" fill="#5b9a51" opacity="0.9"/>
<path d="M-5.4,-5.8 L-5.3,-8.5 L-8.0,-8.6 L-8.1,-5.9Z" fill="#5b9a51" opacity="0.9"/>
<path d="M-4.4,-5.7 L-4.9,-8.9 L-7.8,-10.2 L-7.3,-7.0Z" fill="#428140" opacity="0.9"/>
<path d="M-1.8,-6.7 L-1.4,-10.4 L-3.6,-13.3 L-3.9,-9.7Z" fill="#367337" opacity="0.9"/>
<path d="M0.9,-7.7 L2.8,-10.4 L1.7,-13.5 L-0.1,-10.8Z" fill="#367337" opacity="0.9"/>
<path d="M2.0,-6.9 L4.5,-9.9 L4.0,-13.7 L1.5,-10.8Z" fill="#428140" opacity="0.9"/>
<path d="M5.2,-5.3 L8.3,-6.5 L9.4,-9.7 L6.3,-8.5Z" fill="#5b9a51" opacity="0.9"/>
<path d="M5.1,-4.5 L8.9,-6.0 L10.7,-9.5 L7.0,-8.1Z" fill="#53914a" opacity="0.9"/>
<path d="M7.9,-0.9 L9.9,0.1 L11.6,-1.4 L9.6,-2.5Z" fill="#428140" opacity="0.9"/>
<path d="M5.2,0.8 L8.2,2.8 L11.6,1.8 L8.6,-0.2Z" fill="#3b7a3b" opacity="0.9"/>
<path d="M3.8,2.7 L4.9,5.6 L7.9,5.6 L6.9,2.8Z" fill="#367337" opacity="0.9"/>
<path d="M3.5,3.7 L4.2,7.2 L7.7,8.1 L6.9,4.6Z" fill="#428140" opacity="0.9"/>
<path d="M0.2,4.7 L-1.6,8.0 L0.4,11.1 L2.2,7.9Z" fill="#468542" opacity="0.9"/>
<path d="M-0.9,4.5 L-3.1,6.7 L-1.9,9.5 L0.3,7.3Z" fill="#428140" opacity="0.9"/>
<path d="M-2.8,3.7 L-5.9,5.5 L-6.8,9.0 L-3.6,7.2Z" fill="#428140" opacity="0.9"/>
<path d="M-3.8,3.3 L-7.0,4.0 L-8.1,7.1 L-5.0,6.4Z" fill="#53914a" opacity="0.9"/>
<path d="M-5.6,1.1 L-8.5,-0.3 L-10.5,2.1 L-7.7,3.6Z" fill="#53914a" opacity="0.9"/>
<path d="M-5.2,-2.2 L-6.9,-4.7 L-9.9,-4.2 L-8.2,-1.6Z" fill="#5b9a51" opacity="0.9"/>
<path d="M-3.3,-3.1 L-4.5,-6.6 L-8.0,-7.5 L-6.8,-4.1Z" fill="#5b9a51" opacity="0.9"/>
<path d="M-2.6,-4.8 L-2.0,-7.6 L-4.6,-8.6 L-5.2,-5.8Z" fill="#5b9a51" opacity="0.9"/>
<path d="M-1.0,-5.2 L0.2,-7.7 L-1.9,-9.5 L-3.2,-7.0Z" fill="#5b9a51" opacity="0.9"/>
<path d="M1.7,-4.5 L4.5,-7.0 L3.9,-10.7 L1.1,-8.2Z" fill="#5b9a51" opacity="0.9"/>
<path d="M3.1,-3.3 L6.5,-4.5 L7.4,-8.0 L3.9,-6.9Z" fill="#5b9a51" opacity="0.9"/>
<path d="M3.7,-2.7 L6.9,-2.8 L8.1,-5.8 L4.9,-5.7Z" fill="#428140" opacity="0.9"/>
<path d="M4.6,-1.8 L7.9,-1.2 L9.9,-3.8 L6.7,-4.4Z" fill="#3b7a3b" opacity="0.9"/>
<path d="M1.1,0.6 L3.4,3.4 L7.0,3.9 L4.6,1.1Z" fill="#468542" opacity="0.9"/>
<path d="M0.8,1.2 L1.0,5.1 L4.4,7.0 L4.2,3.1Z" fill="#3b7a3b" opacity="0.9"/>
<path d="M0.1,1.2 L-1.0,4.7 L0.7,7.9 L1.8,4.4Z" fill="#428140" opacity="0.9"/>
<path d="M-0.4,1.1 L-3.7,3.6 L-3.1,7.6 L0.1,5.1Z" fill="#367337" opacity="0.9"/>
<path d="M-1.2,0.5 L-4.7,0.1 L-7.1,2.7 L-3.6,3.0Z" fill="#5b9a51" opacity="0.9"/>
<path d="M-1.2,-0.0 L-4.4,-1.5 L-7.6,-0.1 L-4.4,1.4Z" fill="#5b9a51" opacity="0.9"/>
<path d="M-0.7,-0.9 L-1.2,-4.3 L-4.5,-5.2 L-4.1,-1.8Z" fill="#428140" opacity="0.9"/>
<path d="M-0.6,-1.3 L-0.5,-4.7 L-3.1,-7.0 L-3.1,-3.6Z" fill="#428140" opacity="0.9"/>
<path d="M0.2,-1.2 L2.8,-4.2 L1.3,-7.9 L-1.2,-4.9Z" fill="#367337" opacity="0.9"/>
<path d="M1.2,-0.8 L5.1,-1.0 L6.8,-4.5 L2.9,-4.3Z" fill="#4d8c47" opacity="0.9"/>
<path d="M1.2,-0.4 L4.5,0.3 L6.7,-2.3 L3.4,-3.0Z" fill="#367337" opacity="0.9"/>
</g>
<g filter="url(#tb)" transform="translate(1238,738) scale(1,1.000)">
<circle cx="11.6" cy="0.4" r="10.4" fill="#4a8945"/>
<circle cx="11.1" cy="6.8" r="11.1" fill="#4a8945"/>
<circle cx="1.0" cy="10.6" r="10.3" fill="#4a8945"/>
<circle cx="-4.6" cy="9.9" r="11.4" fill="#4a8945"/>
<circle cx="-10.1" cy="1.0" r="11.2" fill="#4a8945"/>
<circle cx="-10.5" cy="-4.5" r="9.7" fill="#4a8945"/>
<circle cx="-4.9" cy="-10.6" r="10.7" fill="#4a8945"/>
<circle cx="2.7" cy="-10.2" r="10.9" fill="#4a8945"/>
<circle cx="12.2" cy="-6.0" r="10.5" fill="#4a8945"/>
<circle r="15.0" fill="#4a8945"/>
<path d="M12.6,-2.3 L18.1,0.4 L22.4,-4.1 L16.8,-6.8Z" fill="#428140" opacity="0.9"/>
<path d="M15.6,4.2 L18.5,8.1 L22.9,6.1 L20.1,2.1Z" fill="#428140" opacity="0.9"/>
<path d="M13.4,6.6 L17.5,11.4 L23.8,11.6 L19.7,6.8Z" fill="#3b7a3b" opacity="0.9"/>
<path d="M7.9,10.2 L8.8,16.9 L15.2,19.5 L14.3,12.7Z" fill="#367337" opacity="0.9"/>
<path d="M4.7,15.2 L2.8,19.5 L6.8,21.9 L8.7,17.6Z" fill="#428140" opacity="0.9"/>
<path d="M-0.5,13.2 L-3.2,19.5 L-1.1,26.1 L1.6,19.7Z" fill="#428140" opacity="0.9"/>
<path d="M-6.9,14.8 L-11.2,17.2 L-10.3,22.1 L-6.0,19.6Z" fill="#428140" opacity="0.9"/>
<path d="M-7.7,12.9 L-11.9,15.1 L-11.8,19.8 L-7.6,17.6Z" fill="#367337" opacity="0.9"/>
<path d="M-11.0,10.5 L-17.4,11.9 L-19.1,18.2 L-12.7,16.8Z" fill="#428140" opacity="0.9"/>
<path d="M-13.4,5.3 L-18.2,3.6 L-20.6,8.1 L-15.8,9.8Z" fill="#428140" opacity="0.9"/>
<path d="M-13.0,0.9 L-18.9,-1.8 L-24.4,1.8 L-18.5,4.5Z" fill="#5b9a51" opacity="0.9"/>
<path d="M-13.7,-6.8 L-15.9,-11.3 L-20.9,-10.4 L-18.7,-5.9Z" fill="#4d8c47" opacity="0.9"/>
<path d="M-12.1,-8.9 L-13.3,-13.5 L-18.0,-13.3 L-16.8,-8.7Z" fill="#5b9a51" opacity="0.9"/>
<path d="M-8.9,-11.2 L-9.8,-17.4 L-15.6,-19.7 L-14.6,-13.6Z" fill="#5b9a51" opacity="0.9"/>
<path d="M-6.2,-13.0 L-6.4,-20.0 L-11.8,-24.5 L-11.6,-17.5Z" fill="#428140" opacity="0.9"/>
<path d="M-2.9,-14.5 L-1.3,-18.7 L-4.4,-21.9 L-6.1,-17.7Z" fill="#428140" opacity="0.9"/>
<path d="M4.8,-15.8 L8.8,-18.8 L7.2,-23.6 L3.2,-20.5Z" fill="#428140" opacity="0.9"/>
<path d="M8.5,-11.7 L14.8,-14.2 L15.2,-20.9 L8.9,-18.4Z" fill="#5b9a51" opacity="0.9"/>
<path d="M12.0,-9.3 L18.2,-10.9 L21.2,-16.4 L15.1,-14.9Z" fill="#367337" opacity="0.9"/>
<path d="M14.8,-4.0 L20.5,-2.3 L24.5,-6.7 L18.8,-8.4Z" fill="#468542" opacity="0.9"/>
<path d="M10.3,2.0 L15.5,6.0 L21.7,4.2 L16.6,0.2Z" fill="#468542" opacity="0.9"/>
<path d="M8.3,6.7 L9.0,11.9 L14.2,11.5 L13.5,6.3Z" fill="#367337" opacity="0.9"/>
<path d="M4.3,10.1 L2.9,15.2 L7.5,17.8 L8.9,12.6Z" fill="#3b7a3b" opacity="0.9"/>
<path d="M1.7,10.7 L-0.5,15.1 L2.9,18.7 L5.1,14.2Z" fill="#3b7a3b" opacity="0.9"/>
<path d="M-0.7,9.0 L-4.8,13.4 L-1.4,18.4 L2.7,14.0Z" fill="#468542" opacity="0.9"/>
<path d="M-5.7,8.7 L-11.1,11.5 L-11.5,17.6 L-6.0,14.8Z" fill="#367337" opacity="0.9"/>
<path d="M-8.6,4.9 L-14.0,4.8 L-16.7,9.5 L-11.2,9.7Z" fill="#5b9a51" opacity="0.9"/>
<path d="M-8.9,1.3 L-15.2,-1.4 L-20.4,2.9 L-14.2,5.6Z" fill="#367337" opacity="0.9"/>
<path d="M-8.4,-2.2 L-13.2,-6.0 L-19.2,-5.1 L-14.4,-1.3Z" fill="#428140" opacity="0.9"/>
<path d="M-8.5,-4.6 L-12.1,-10.2 L-18.7,-10.1 L-15.1,-4.5Z" fill="#5b9a51" opacity="0.9"/>
<path d="M-4.7,-8.5 L-4.9,-14.4 L-9.8,-17.7 L-9.6,-11.8Z" fill="#5b9a51" opacity="0.9"/>
<path d="M-2.6,-10.0 L-1.0,-15.5 L-5.1,-19.5 L-6.7,-14.0Z" fill="#5b9a51" opacity="0.9"/>
<path d="M2.0,-10.0 L6.4,-14.7 L4.0,-20.7 L-0.4,-16.0Z" fill="#428140" opacity="0.9"/>
<path d="M7.1,-8.3 L13.4,-10.4 L14.5,-16.9 L8.3,-14.8Z" fill="#468542" opacity="0.9"/>
<path d="M9.6,-4.6 L14.2,-3.7 L16.4,-7.8 L11.8,-8.7Z" fill="#367337" opacity="0.9"/>
<path d="M10.0,-1.0 L14.8,1.1 L19.2,-1.9 L14.3,-4.0Z" fill="#428140" opacity="0.9"/>
<path d="M2.5,0.6 L8.2,4.7 L15.1,3.7 L9.4,-0.4Z" fill="#468542" opacity="0.9"/>
<path d="M0.9,2.1 L0.7,8.8 L5.9,13.2 L6.1,6.4Z" fill="#468542" opacity="0.9"/>
<path d="M-0.3,2.1 L-4.4,7.3 L-1.6,13.3 L2.6,8.1Z" fill="#367337" opacity="0.9"/>
<path d="M-1.4,2.2 L-7.8,5.6 L-7.9,12.8 L-1.5,9.5Z" fill="#367337" opacity="0.9"/>
<path d="M-2.1,1.5 L-8.1,2.1 L-10.4,7.7 L-4.4,7.1Z" fill="#367337" opacity="0.9"/>
<path d="M-2.5,-0.2 L-7.7,-3.1 L-13.2,-1.0 L-8.0,1.9Z" fill="#5b9a51" opacity="0.9"/>
<path d="M-1.9,-2.0 L-2.6,-8.2 L-8.7,-9.5 L-7.9,-3.3Z" fill="#5b9a51" opacity="0.9"/>
<path d="M-0.9,-2.2 L-0.5,-8.9 L-5.3,-13.5 L-5.7,-6.8Z" fill="#428140" opacity="0.9"/>
<path d="M1.0,-2.4 L6.4,-6.6 L5.7,-13.4 L0.3,-9.2Z" fill="#367337" opacity="0.9"/>
<path d="M1.7,-2.0 L7.9,-5.0 L9.8,-11.7 L3.6,-8.6Z" fill="#428140" opacity="0.9"/>
<path d="M2.2,-0.4 L8.5,1.0 L13.8,-2.6 L7.5,-4.0Z" fill="#4d8c47" opacity="0.9"/>
</g>
<g filter="url(#tb)" transform="translate(1280,725) scale(1,1.000)">
<circle cx="16.9" cy="-0.4" r="15.8" fill="#4a8945"/>
<circle cx="12.9" cy="10.5" r="14.7" fill="#4a8945"/>
<circle cx="5.4" cy="15.8" r="14.8" fill="#4a8945"/>
<circle cx="-9.0" cy="11.4" r="13.7" fill="#4a8945"/>
<circle cx="-15.5" cy="9.6" r="15.0" fill="#4a8945"/>
<circle cx="-19.0" cy="-2.3" r="16.0" fill="#4a8945"/>
<circle cx="-7.4" cy="-15.5" r="13.2" fill="#4a8945"/>
<circle cx="-1.1" cy="-16.7" r="12.8" fill="#4a8945"/>
<circle cx="10.0" cy="-11.5" r="12.7" fill="#4a8945"/>
<circle r="21.0" fill="#4a8945"/>
<path d="M20.2,-0.3 L28.7,2.6 L37.1,-0.5 L28.6,-3.5Z" fill="#367337" opacity="0.9"/>
<path d="M20.8,4.6 L26.6,8.6 L33.5,7.4 L27.7,3.3Z" fill="#4d8c47" opacity="0.9"/>
<path d="M18.0,13.1 L21.9,19.5 L29.1,21.3 L25.2,15.0Z" fill="#3b7a3b" opacity="0.9"/>
<path d="M15.4,9.8 L21.6,17.1 L30.8,19.6 L24.7,12.2Z" fill="#468542" opacity="0.9"/>
<path d="M15.6,16.7 L18.7,23.5 L25.3,27.2 L22.1,20.4Z" fill="#3b7a3b" opacity="0.9"/>
<path d="M6.5,19.3 L6.6,28.6 L12.1,36.1 L12.0,26.8Z" fill="#3b7a3b" opacity="0.9"/>
<path d="M4.8,21.4 L3.6,27.3 L7.1,32.1 L8.3,26.2Z" fill="#428140" opacity="0.9"/>
<path d="M-2.9,21.6 L-6.2,26.2 L-4.2,31.5 L-0.9,26.9Z" fill="#3b7a3b" opacity="0.9"/>
<path d="M0.3,22.0 L-2.7,27.2 L0.4,32.2 L3.5,27.1Z" fill="#367337" opacity="0.9"/>
<path d="M-5.5,21.0 L-9.9,25.1 L-8.1,30.9 L-3.6,26.7Z" fill="#428140" opacity="0.9"/>
<path d="M-10.1,16.0 L-17.0,19.9 L-17.6,27.8 L-10.7,23.9Z" fill="#4d8c47" opacity="0.9"/>
<path d="M-15.1,16.7 L-20.5,18.5 L-21.8,24.1 L-16.3,22.3Z" fill="#4d8c47" opacity="0.9"/>
<path d="M-16.3,8.6 L-26.2,10.9 L-33.7,17.8 L-23.8,15.5Z" fill="#53914a" opacity="0.9"/>
<path d="M-19.1,4.2 L-26.2,3.3 L-32.3,7.1 L-25.2,8.0Z" fill="#53914a" opacity="0.9"/>
<path d="M-19.1,1.4 L-27.4,-0.8 L-35.2,2.7 L-26.9,4.9Z" fill="#5b9a51" opacity="0.9"/>
<path d="M-19.5,-5.9 L-25.6,-11.4 L-33.6,-10.1 L-27.6,-4.6Z" fill="#428140" opacity="0.9"/>
<path d="M-22.2,-4.2 L-28.7,-8.1 L-36.3,-6.8 L-29.7,-2.9Z" fill="#428140" opacity="0.9"/>
<path d="M-18.3,-13.6 L-20.0,-19.4 L-26.0,-19.3 L-24.3,-13.5Z" fill="#4d8c47" opacity="0.9"/>
<path d="M-14.0,-14.4 L-16.3,-20.2 L-22.1,-22.7 L-19.7,-16.9Z" fill="#4d8c47" opacity="0.9"/>
<path d="M-13.9,-16.5 L-14.9,-23.0 L-21.1,-25.1 L-20.2,-18.5Z" fill="#367337" opacity="0.9"/>
<path d="M-8.4,-16.8 L-10.1,-25.7 L-16.1,-32.4 L-14.4,-23.5Z" fill="#428140" opacity="0.9"/>
<path d="M-3.1,-22.1 L-1.3,-29.0 L-4.9,-35.1 L-6.7,-28.2Z" fill="#4d8c47" opacity="0.9"/>
<path d="M-1.2,-17.9 L1.3,-25.6 L-2.1,-32.8 L-4.6,-25.2Z" fill="#53914a" opacity="0.9"/>
<path d="M2.8,-19.6 L6.3,-26.8 L4.9,-34.8 L1.4,-27.5Z" fill="#428140" opacity="0.9"/>
<path d="M13.8,-18.4 L20.3,-21.5 L21.4,-28.6 L15.0,-25.5Z" fill="#428140" opacity="0.9"/>
<path d="M9.6,-15.3 L16.1,-18.9 L16.5,-26.3 L10.0,-22.7Z" fill="#5b9a51" opacity="0.9"/>
<path d="M16.1,-8.1 L25.3,-9.3 L31.8,-15.9 L22.6,-14.7Z" fill="#468542" opacity="0.9"/>
<path d="M20.2,-11.2 L25.4,-10.5 L27.5,-15.3 L22.4,-15.9Z" fill="#468542" opacity="0.9"/>
<path d="M21.7,-1.2 L29.0,1.8 L36.0,-2.0 L28.7,-5.1Z" fill="#4d8c47" opacity="0.9"/>
<path d="M14.2,2.0 L21.8,6.7 L30.3,4.3 L22.7,-0.4Z" fill="#428140" opacity="0.9"/>
<path d="M12.4,8.3 L16.3,14.8 L23.9,16.0 L19.9,9.5Z" fill="#428140" opacity="0.9"/>
<path d="M10.0,9.9 L11.9,16.3 L18.3,18.1 L16.4,11.7Z" fill="#468542" opacity="0.9"/>
<path d="M5.6,13.3 L5.1,20.7 L10.7,25.4 L11.3,18.1Z" fill="#367337" opacity="0.9"/>
<path d="M4.4,14.2 L2.8,20.4 L7.7,24.6 L9.3,18.4Z" fill="#3b7a3b" opacity="0.9"/>
<path d="M-0.5,13.6 L-4.0,20.0 L-0.9,26.6 L2.6,20.2Z" fill="#367337" opacity="0.9"/>
<path d="M-4.7,14.4 L-8.7,19.2 L-8.3,25.5 L-4.3,20.7Z" fill="#428140" opacity="0.9"/>
<path d="M-7.3,10.3 L-14.1,13.8 L-15.1,21.5 L-8.2,18.0Z" fill="#468542" opacity="0.9"/>
<path d="M-10.7,10.6 L-17.3,12.5 L-19.4,19.1 L-12.7,17.2Z" fill="#53914a" opacity="0.9"/>
<path d="M-12.8,7.2 L-21.6,8.0 L-26.8,15.0 L-18.1,14.2Z" fill="#428140" opacity="0.9"/>
<path d="M-12.8,2.3 L-19.8,0.5 L-25.7,4.6 L-18.7,6.4Z" fill="#367337" opacity="0.9"/>
<path d="M-14.1,-2.9 L-21.7,-7.2 L-30.3,-6.2 L-22.7,-1.9Z" fill="#428140" opacity="0.9"/>
<path d="M-12.2,-4.0 L-17.8,-8.9 L-25.2,-8.3 L-19.6,-3.4Z" fill="#367337" opacity="0.9"/>
<path d="M-10.7,-7.4 L-15.7,-15.4 L-24.9,-17.3 L-19.9,-9.3Z" fill="#5b9a51" opacity="0.9"/>
<path d="M-9.1,-7.9 L-14.5,-15.7 L-23.1,-19.9 L-17.6,-12.1Z" fill="#367337" opacity="0.9"/>
<path d="M-4.9,-12.0 L-5.9,-20.8 L-11.3,-27.8 L-10.3,-19.0Z" fill="#428140" opacity="0.9"/>
<path d="M-1.9,-11.8 L-0.7,-21.3 L-4.8,-29.8 L-6.0,-20.4Z" fill="#428140" opacity="0.9"/>
<path d="M-0.7,-14.1 L2.2,-21.2 L-1.4,-27.9 L-4.2,-20.8Z" fill="#367337" opacity="0.9"/>
<path d="M7.7,-13.2 L13.5,-18.0 L14.8,-25.4 L9.0,-20.6Z" fill="#428140" opacity="0.9"/>
<path d="M6.2,-10.2 L13.3,-15.3 L14.7,-24.0 L7.6,-18.8Z" fill="#53914a" opacity="0.9"/>
<path d="M9.9,-8.6 L18.1,-11.6 L22.3,-19.2 L14.1,-16.2Z" fill="#468542" opacity="0.9"/>
<path d="M12.9,-3.2 L21.9,-1.7 L29.1,-7.2 L20.1,-8.7Z" fill="#428140" opacity="0.9"/>
<path d="M14.4,1.4 L19.8,5.0 L25.9,2.6 L20.4,-0.9Z" fill="#367337" opacity="0.9"/>
<path d="M2.8,1.8 L8.0,9.3 L17.1,10.8 L11.9,3.3Z" fill="#468542" opacity="0.9"/>
<path d="M1.9,2.8 L4.6,11.4 L11.6,17.0 L8.9,8.4Z" fill="#367337" opacity="0.9"/>
<path d="M0.9,3.4 L0.6,12.5 L5.3,20.2 L5.6,11.1Z" fill="#468542" opacity="0.9"/>
<path d="M-0.8,3.8 L-5.7,11.0 L-4.0,19.7 L1.0,12.4Z" fill="#428140" opacity="0.9"/>
<path d="M-2.0,3.1 L-8.2,8.4 L-10.3,16.3 L-4.1,11.0Z" fill="#367337" opacity="0.9"/>
<path d="M-2.6,2.5 L-10.2,6.4 L-14.4,13.7 L-6.9,9.8Z" fill="#5b9a51" opacity="0.9"/>
<path d="M-3.1,2.0 L-10.9,3.5 L-15.7,9.9 L-7.9,8.3Z" fill="#5b9a51" opacity="0.9"/>
<path d="M-3.1,0.4 L-11.9,-1.7 L-19.8,2.7 L-11.0,4.9Z" fill="#367337" opacity="0.9"/>
<path d="M-3.4,-1.7 L-8.9,-8.7 L-17.7,-9.1 L-12.2,-2.2Z" fill="#428140" opacity="0.9"/>
<path d="M-2.7,-2.2 L-6.6,-9.7 L-14.8,-12.0 L-10.9,-4.5Z" fill="#367337" opacity="0.9"/>
<path d="M-1.4,-3.5 L-1.8,-12.1 L-7.4,-18.8 L-7.0,-10.1Z" fill="#5b9a51" opacity="0.9"/>
<path d="M0.5,-3.7 L5.1,-10.6 L2.7,-18.5 L-1.9,-11.6Z" fill="#4d8c47" opacity="0.9"/>
<path d="M1.4,-3.2 L7.2,-8.9 L7.4,-17.1 L1.6,-11.4Z" fill="#5b9a51" opacity="0.9"/>
<path d="M2.2,-2.0 L11.3,-6.1 L16.2,-14.7 L7.2,-10.6Z" fill="#367337" opacity="0.9"/>
<path d="M3.3,-0.9 L12.1,0.1 L19.2,-5.2 L10.4,-6.2Z" fill="#428140" opacity="0.9"/>
<path d="M3.3,0.1 L12.5,3.9 L21.9,0.5 L12.7,-3.3Z" fill="#428140" opacity="0.9"/>
</g>
<path d="M1073,370.1 L1194,370.1" fill="none" stroke="#7c7c7c" stroke-width="4.8" stroke-linejoin="miter"/>
<path d="M1073,370.1 L1194,370.1" fill="none" stroke="#f4f4f4" stroke-width="3.4" stroke-linejoin="miter"/>
<rect x="1070.4" y="367.5" width="5.2" height="5.2" fill="#fafafa" stroke="#808080" stroke-width="0.7" transform="rotate(0.0 1073.0 370.1)"/>
<rect x="1094.6" y="367.5" width="5.2" height="5.2" fill="#fafafa" stroke="#808080" stroke-width="0.7" transform="rotate(0.0 1097.2 370.1)"/>
<rect x="1118.8" y="367.5" width="5.2" height="5.2" fill="#fafafa" stroke="#808080" stroke-width="0.7" transform="rotate(0.0 1121.4 370.1)"/>
<rect x="1143.0" y="367.5" width="5.2" height="5.2" fill="#fafafa" stroke="#808080" stroke-width="0.7" transform="rotate(0.0 1145.6 370.1)"/>
<rect x="1167.2" y="367.5" width="5.2" height="5.2" fill="#fafafa" stroke="#808080" stroke-width="0.7" transform="rotate(0.0 1169.8 370.1)"/>
<rect x="1191.4" y="367.5" width="5.2" height="5.2" fill="#fafafa" stroke="#808080" stroke-width="0.7" transform="rotate(0.0 1194.0 370.1)"/>
<path d="M1073,370.1 L1036.2,258.9 L1063.4,222.3 L1146.5,231.8 L1146.5,212.8 L1186.6,212.8 L1186.6,232 L1359.3,240.5 L1359.3,601" fill="none" stroke="#7c7c7c" stroke-width="4.8" stroke-linejoin="miter"/>
<path d="M1073,370.1 L1036.2,258.9 L1063.4,222.3 L1146.5,231.8 L1146.5,212.8 L1186.6,212.8 L1186.6,232 L1359.3,240.5 L1359.3,601" fill="none" stroke="#f4f4f4" stroke-width="3.4" stroke-linejoin="miter"/>
<rect x="1070.4" y="367.5" width="5.2" height="5.2" fill="#fafafa" stroke="#808080" stroke-width="0.7" transform="rotate(-108.3 1073.0 370.1)"/>
<rect x="1063.0" y="345.3" width="5.2" height="5.2" fill="#fafafa" stroke="#808080" stroke-width="0.7" transform="rotate(-108.3 1065.6 347.9)"/>
<rect x="1055.7" y="323.0" width="5.2" height="5.2" fill="#fafafa" stroke="#808080" stroke-width="0.7" transform="rotate(-108.3 1058.3 325.6)"/>
<rect x="1048.3" y="300.8" width="5.2" height="5.2" fill="#fafafa" stroke="#808080" stroke-width="0.7" transform="rotate(-108.3 1050.9 303.4)"/>
<rect x="1041.0" y="278.5" width="5.2" height="5.2" fill="#fafafa" stroke="#808080" stroke-width="0.7" transform="rotate(-108.3 1043.6 281.1)"/>
<rect x="1033.6" y="256.3" width="5.2" height="5.2" fill="#fafafa" stroke="#808080" stroke-width="0.7" transform="rotate(-108.3 1036.2 258.9)"/>
<rect x="1033.6" y="256.3" width="5.2" height="5.2" fill="#fafafa" stroke="#808080" stroke-width="0.7" transform="rotate(-53.4 1036.2 258.9)"/>
<rect x="1047.2" y="238.0" width="5.2" height="5.2" fill="#fafafa" stroke="#808080" stroke-width="0.7" transform="rotate(-53.4 1049.8 240.6)"/>
<rect x="1060.8" y="219.7" width="5.2" height="5.2" fill="#fafafa" stroke="#808080" stroke-width="0.7" transform="rotate(-53.4 1063.4 222.3)"/>
<rect x="1060.8" y="219.7" width="5.2" height="5.2" fill="#fafafa" stroke="#808080" stroke-width="0.7" transform="rotate(6.5 1063.4 222.3)"/>
<rect x="1088.5" y="222.9" width="5.2" height="5.2" fill="#fafafa" stroke="#808080" stroke-width="0.7" transform="rotate(6.5 1091.1 225.5)"/>
<rect x="1116.2" y="226.0" width="5.2" height="5.2" fill="#fafafa" stroke="#808080" stroke-width="0.7" transform="rotate(6.5 1118.8 228.6)"/>
<rect x="1143.9" y="229.2" width="5.2" height="5.2" fill="#fafafa" stroke="#808080" stroke-width="0.7" transform="rotate(6.5 1146.5 231.8)"/>
<rect x="1143.9" y="229.2" width="5.2" height="5.2" fill="#fafafa" stroke="#808080" stroke-width="0.7" transform="rotate(-90.0 1146.5 231.8)"/>
<rect x="1143.9" y="210.2" width="5.2" height="5.2" fill="#fafafa" stroke="#808080" stroke-width="0.7" transform="rotate(-90.0 1146.5 212.8)"/>
<rect x="1143.9" y="210.2" width="5.2" height="5.2" fill="#fafafa" stroke="#808080" stroke-width="0.7" transform="rotate(0.0 1146.5 212.8)"/>
<rect x="1164.0" y="210.2" width="5.2" height="5.2" fill="#fafafa" stroke="#808080" stroke-width="0.7" transform="rotate(0.0 1166.5 212.8)"/>
<rect x="1184.0" y="210.2" width="5.2" height="5.2" fill="#fafafa" stroke="#808080" stroke-width="0.7" transform="rotate(0.0 1186.6 212.8)"/>
<rect x="1184.0" y="210.2" width="5.2" height="5.2" fill="#fafafa" stroke="#808080" stroke-width="0.7" transform="rotate(90.0 1186.6 212.8)"/>
<rect x="1184.0" y="229.4" width="5.2" height="5.2" fill="#fafafa" stroke="#808080" stroke-width="0.7" transform="rotate(90.0 1186.6 232.0)"/>
<rect x="1184.0" y="229.4" width="5.2" height="5.2" fill="#fafafa" stroke="#808080" stroke-width="0.7" transform="rotate(2.8 1186.6 232.0)"/>
<rect x="1208.7" y="230.6" width="5.2" height="5.2" fill="#fafafa" stroke="#808080" stroke-width="0.7" transform="rotate(2.8 1211.3 233.2)"/>
<rect x="1233.3" y="231.8" width="5.2" height="5.2" fill="#fafafa" stroke="#808080" stroke-width="0.7" transform="rotate(2.8 1235.9 234.4)"/>
<rect x="1258.0" y="233.0" width="5.2" height="5.2" fill="#fafafa" stroke="#808080" stroke-width="0.7" transform="rotate(2.8 1260.6 235.6)"/>
<rect x="1282.7" y="234.3" width="5.2" height="5.2" fill="#fafafa" stroke="#808080" stroke-width="0.7" transform="rotate(2.8 1285.3 236.9)"/>
<rect x="1307.4" y="235.5" width="5.2" height="5.2" fill="#fafafa" stroke="#808080" stroke-width="0.7" transform="rotate(2.8 1310.0 238.1)"/>
<rect x="1332.0" y="236.7" width="5.2" height="5.2" fill="#fafafa" stroke="#808080" stroke-width="0.7" transform="rotate(2.8 1334.6 239.3)"/>
<rect x="1356.7" y="237.9" width="5.2" height="5.2" fill="#fafafa" stroke="#808080" stroke-width="0.7" transform="rotate(2.8 1359.3 240.5)"/>
<rect x="1356.7" y="237.9" width="5.2" height="5.2" fill="#fafafa" stroke="#808080" stroke-width="0.7" transform="rotate(90.0 1359.3 240.5)"/>
<rect x="1356.7" y="263.6" width="5.2" height="5.2" fill="#fafafa" stroke="#808080" stroke-width="0.7" transform="rotate(90.0 1359.3 266.2)"/>
<rect x="1356.7" y="289.4" width="5.2" height="5.2" fill="#fafafa" stroke="#808080" stroke-width="0.7" transform="rotate(90.0 1359.3 292.0)"/>
<rect x="1356.7" y="315.1" width="5.2" height="5.2" fill="#fafafa" stroke="#808080" stroke-width="0.7" transform="rotate(90.0 1359.3 317.8)"/>
<rect x="1356.7" y="340.9" width="5.2" height="5.2" fill="#fafafa" stroke="#808080" stroke-width="0.7" transform="rotate(90.0 1359.3 343.5)"/>
<rect x="1356.7" y="366.6" width="5.2" height="5.2" fill="#fafafa" stroke="#808080" stroke-width="0.7" transform="rotate(90.0 1359.3 369.2)"/>
<rect x="1356.7" y="392.4" width="5.2" height="5.2" fill="#fafafa" stroke="#808080" stroke-width="0.7" transform="rotate(90.0 1359.3 395.0)"/>
<rect x="1356.7" y="418.1" width="5.2" height="5.2" fill="#fafafa" stroke="#808080" stroke-width="0.7" transform="rotate(90.0 1359.3 420.8)"/>
<rect x="1356.7" y="443.9" width="5.2" height="5.2" fill="#fafafa" stroke="#808080" stroke-width="0.7" transform="rotate(90.0 1359.3 446.5)"/>
<rect x="1356.7" y="469.6" width="5.2" height="5.2" fill="#fafafa" stroke="#808080" stroke-width="0.7" transform="rotate(90.0 1359.3 472.2)"/>
<rect x="1356.7" y="495.4" width="5.2" height="5.2" fill="#fafafa" stroke="#808080" stroke-width="0.7" transform="rotate(90.0 1359.3 498.0)"/>
<rect x="1356.7" y="521.1" width="5.2" height="5.2" fill="#fafafa" stroke="#808080" stroke-width="0.7" transform="rotate(90.0 1359.3 523.8)"/>
<rect x="1356.7" y="546.9" width="5.2" height="5.2" fill="#fafafa" stroke="#808080" stroke-width="0.7" transform="rotate(90.0 1359.3 549.5)"/>
<rect x="1356.7" y="572.6" width="5.2" height="5.2" fill="#fafafa" stroke="#808080" stroke-width="0.7" transform="rotate(90.0 1359.3 575.2)"/>
<rect x="1356.7" y="598.4" width="5.2" height="5.2" fill="#fafafa" stroke="#808080" stroke-width="0.7" transform="rotate(90.0 1359.3 601.0)"/>
<text x="1273" y="487.5" font-size="11.5" font-weight="bold" fill="#222" text-anchor="middle" textLength="66" lengthAdjust="spacingAndGlyphs">RESIDENCE</text>
<defs><linearGradient id="cg" x1="0" y1="0" x2="1" y2="1"><stop offset="0" stop-color="#e2e2e2"/><stop offset="0.5" stop-color="#b9b9b9"/><stop offset="1" stop-color="#7d7d7d"/></linearGradient></defs>
<g transform="translate(1077.8,695.9)">
<circle r="20.6" fill="url(#cg)" stroke="#1a1a1a" stroke-width="2.2"/>
<g transform="rotate(-15.4) scale(1.12,0.98)">
<path d="M-12,8 V-8 L-6,-8 L5,3 V-8 H11 V8 H5.5 L-6,-3.5 V8 Z" fill="#6d6d6d" stroke="#222" stroke-width="1" transform="translate(1.6,2.2)"/>
<path d="M-12,8 V-8 L-6,-8 L5,3 V-8 H11 V8 H5.5 L-6,-3.5 V8 Z" fill="#f4f4f4" stroke="#222" stroke-width="1"/>
</g>
<g transform="rotate(-15.4)">
<path d="M-31.5,0 H31.5" stroke="#333" stroke-width="0.9" transform="rotate(0.8)"/>
<path d="M-2.4,-32.5 L2.2,-32.5 L1.7,-13 H-1.7 Z" fill="#111"/><rect x="-2" y="-13.5" width="4" height="4" fill="#111"/><path d="M0,-9.5 V-5" stroke="#111" stroke-width="0.9"/>
<rect x="-2" y="10.5" width="4" height="4" fill="#111"/><path d="M-2.3,14.5 H2.3 L0.3,37.5 Z" fill="#111"/>
</g></g>
<text x="1093" y="751.4" font-size="9.4" font-weight="bold" fill="#555" stroke="#555" stroke-width="0.25" text-anchor="middle" textLength="34.5" lengthAdjust="spacingAndGlyphs">NORTH</text>
<text x="1269" y="820.5" font-size="12.9" font-weight="bold" fill="#222" stroke="#222" stroke-width="0.25" text-anchor="middle" textLength="152" lengthAdjust="spacingAndGlyphs">SITE PLAN (Not to Scale)</text>
</g>
<g id="footer" fill="#111">
<text x="105" y="923" font-size="60" font-weight="bold" fill="#8c8e91" stroke="#8c8e91" stroke-width="1.3" textLength="180.5" lengthAdjust="spacingAndGlyphs">dukes.</text>
<text x="397" y="876.5" font-size="15.8" text-anchor="start" textLength="119" lengthAdjust="spacingAndGlyphs">PENRITH OFFICE</text>
<text x="398.5" y="901.5" font-size="15.8" text-anchor="start" textLength="143.5" lengthAdjust="spacingAndGlyphs">Phone: 02 4722 2626</text>
<text x="709" y="876.5" font-size="15.8" text-anchor="start" textLength="147" lengthAdjust="spacingAndGlyphs">EMU PLAINS OFFICE</text>
<text x="710" y="901.5" font-size="15.8" text-anchor="start" textLength="144" lengthAdjust="spacingAndGlyphs">Phone: 02 4735 6600</text>
<text x="1042" y="876.5" font-size="15.8" text-anchor="start" textLength="149" lengthAdjust="spacingAndGlyphs">GLENBROOK OFFICE</text>
<text x="1044" y="901.5" font-size="15.8" text-anchor="start" textLength="144" lengthAdjust="spacingAndGlyphs">Phone: 02 4739 9933</text>
<text x="739.3" y="951.2" font-size="12.2" text-anchor="middle" textLength="568" lengthAdjust="spacingAndGlyphs">DISCLAIMER: ALL PICTURES SHOWN ARE FOR ILLUSTRATION PURPOSE ONLY. PREPARED BY DUKES</text>
<text x="735.5" y="971.3" font-size="18" text-anchor="middle" textLength="219" lengthAdjust="spacingAndGlyphs">dukesestateagents.com.au</text>
</g>
</svg>
</body></html>
